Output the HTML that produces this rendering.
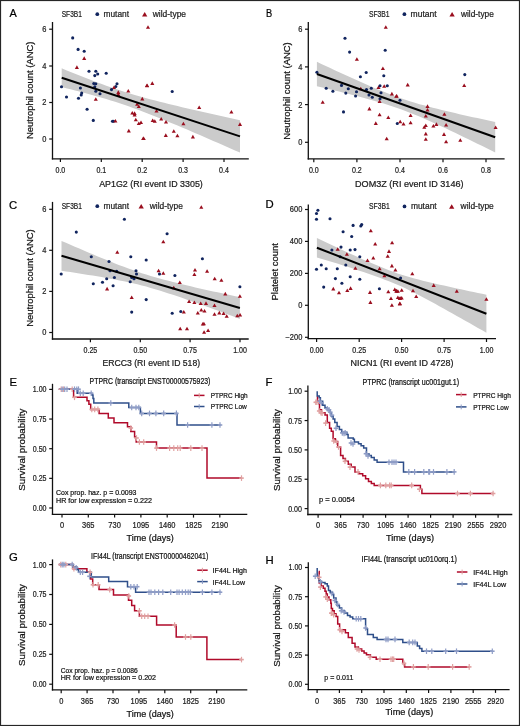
<!DOCTYPE html><html><head><meta charset="utf-8"><style>html,body{margin:0;padding:0;background:#fff}body{width:520px;height:726px;overflow:hidden}svg{display:block;will-change:transform}</style></head><body>
<svg width="520" height="726" viewBox="0 0 520 726" font-family='"Liberation Sans", sans-serif'>
<rect x="0" y="0" width="520" height="726" fill="#fff"/>
<text x="9.40" y="17.10" font-size="11.3" fill="#000" stroke="#000" stroke-width="0.22" textLength="7.30" lengthAdjust="spacingAndGlyphs">A</text>
<text x="265.90" y="16.60" font-size="11.3" fill="#000" stroke="#000" stroke-width="0.22" textLength="6.20" lengthAdjust="spacingAndGlyphs">B</text>
<text x="9.00" y="209.40" font-size="11.3" fill="#000" stroke="#000" stroke-width="0.22">C</text>
<text x="265.50" y="207.50" font-size="11.3" fill="#000" stroke="#000" stroke-width="0.22">D</text>
<text x="9.40" y="386.20" font-size="11.3" fill="#000" stroke="#000" stroke-width="0.22">E</text>
<text x="265.40" y="386.20" font-size="11.3" fill="#000" stroke="#000" stroke-width="0.22">F</text>
<text x="9.00" y="561.20" font-size="11.3" fill="#000" stroke="#000" stroke-width="0.22">G</text>
<text x="265.40" y="564.10" font-size="11.3" fill="#000" stroke="#000" stroke-width="0.22">H</text>
<path d="M61.70 68.30L66.16 70.15L70.62 71.98L75.07 73.79L79.53 75.58L83.99 77.35L88.45 79.09L92.90 80.80L97.36 82.48L101.82 84.12L106.28 85.72L110.73 87.28L115.19 88.80L119.65 90.27L124.11 91.70L128.56 93.09L133.02 94.43L137.48 95.73L141.94 96.99L146.39 98.22L150.85 99.42L155.31 100.59L159.77 101.74L164.22 102.86L168.68 103.96L173.14 105.05L177.60 106.12L182.05 107.18L186.51 108.22L190.97 109.26L195.43 110.28L199.88 111.30L204.34 112.31L208.80 113.31L213.25 114.31L217.71 115.30L222.17 116.29L226.63 117.27L231.09 118.25L235.54 119.23L240.00 120.20L240.00 152.60L235.54 150.64L231.09 148.68L226.63 146.72L222.17 144.77L217.71 142.82L213.25 140.88L208.80 138.94L204.34 137.01L199.88 135.09L195.43 133.17L190.97 131.26L186.51 129.36L182.05 127.47L177.60 125.59L173.14 123.73L168.68 121.88L164.22 120.05L159.77 118.23L155.31 116.44L150.85 114.68L146.39 112.94L141.94 111.24L137.48 109.57L133.02 107.93L128.56 106.34L124.11 104.79L119.65 103.28L115.19 101.82L110.73 100.40L106.28 99.03L101.82 97.69L97.36 96.40L92.90 95.14L88.45 93.92L83.99 92.72L79.53 91.56L75.07 90.41L70.62 89.29L66.16 88.19L61.70 87.10Z" fill="#cbcbcb"/>
<circle cx="72.70" cy="37.90" r="1.55" fill="#10245e"/>
<circle cx="78.10" cy="49.40" r="1.55" fill="#10245e"/>
<circle cx="84.20" cy="51.20" r="1.55" fill="#10245e"/>
<path d="M84.20 56.37L86.25 59.92L82.15 59.92Z" fill="#9a0e1e"/>
<path d="M76.90 65.37L78.95 68.92L74.85 68.92Z" fill="#9a0e1e"/>
<path d="M148.00 25.17L150.05 28.72L145.95 28.72Z" fill="#9a0e1e"/>
<circle cx="89.00" cy="71.30" r="1.55" fill="#10245e"/>
<circle cx="95.80" cy="71.20" r="1.55" fill="#10245e"/>
<circle cx="97.70" cy="74.00" r="1.55" fill="#10245e"/>
<circle cx="94.80" cy="75.60" r="1.55" fill="#10245e"/>
<circle cx="106.20" cy="73.30" r="1.55" fill="#10245e"/>
<circle cx="61.50" cy="86.70" r="1.55" fill="#10245e"/>
<circle cx="93.80" cy="83.50" r="1.55" fill="#10245e"/>
<circle cx="95.80" cy="83.80" r="1.55" fill="#10245e"/>
<circle cx="94.80" cy="86.70" r="1.55" fill="#10245e"/>
<circle cx="80.40" cy="88.00" r="1.55" fill="#10245e"/>
<circle cx="117.00" cy="83.80" r="1.55" fill="#10245e"/>
<circle cx="115.80" cy="86.50" r="1.55" fill="#10245e"/>
<path d="M114.00 85.57L116.05 89.12L111.95 89.12Z" fill="#9a0e1e"/>
<circle cx="111.50" cy="89.60" r="1.55" fill="#10245e"/>
<circle cx="95.80" cy="91.20" r="1.55" fill="#10245e"/>
<path d="M118.30 90.37L120.35 93.92L116.25 93.92Z" fill="#9a0e1e"/>
<path d="M118.30 92.47L120.35 96.02L116.25 96.02Z" fill="#9a0e1e"/>
<path d="M128.30 89.07L130.35 92.62L126.25 92.62Z" fill="#9a0e1e"/>
<path d="M147.10 83.67L149.15 87.22L145.05 87.22Z" fill="#9a0e1e"/>
<circle cx="81.70" cy="93.00" r="1.55" fill="#10245e"/>
<circle cx="81.20" cy="95.00" r="1.55" fill="#10245e"/>
<circle cx="100.00" cy="93.70" r="1.55" fill="#10245e"/>
<circle cx="66.50" cy="97.00" r="1.55" fill="#10245e"/>
<circle cx="78.50" cy="98.30" r="1.55" fill="#10245e"/>
<path d="M95.80 97.17L97.85 100.72L93.75 100.72Z" fill="#9a0e1e"/>
<path d="M142.30 96.87L144.35 100.42L140.25 100.42Z" fill="#9a0e1e"/>
<circle cx="87.10" cy="109.20" r="1.55" fill="#10245e"/>
<circle cx="93.30" cy="120.40" r="1.55" fill="#10245e"/>
<circle cx="112.50" cy="121.20" r="1.55" fill="#10245e"/>
<circle cx="113.50" cy="121.20" r="1.55" fill="#10245e"/>
<path d="M115.40 119.07L117.45 122.62L113.35 122.62Z" fill="#9a0e1e"/>
<path d="M137.10 102.27L139.15 105.82L135.05 105.82Z" fill="#9a0e1e"/>
<path d="M138.80 104.57L140.85 108.12L136.75 108.12Z" fill="#9a0e1e"/>
<path d="M132.30 110.97L134.35 114.52L130.25 114.52Z" fill="#9a0e1e"/>
<path d="M134.60 111.37L136.65 114.92L132.55 114.92Z" fill="#9a0e1e"/>
<path d="M134.60 112.87L136.65 116.42L132.55 116.42Z" fill="#9a0e1e"/>
<path d="M135.80 117.67L137.85 121.22L133.75 121.22Z" fill="#9a0e1e"/>
<path d="M138.80 121.57L140.85 125.12L136.75 125.12Z" fill="#9a0e1e"/>
<path d="M141.00 120.57L143.05 124.12L138.95 124.12Z" fill="#9a0e1e"/>
<path d="M128.80 128.87L130.85 132.42L126.75 132.42Z" fill="#9a0e1e"/>
<path d="M143.70 136.57L145.75 140.12L141.65 140.12Z" fill="#9a0e1e"/>
<path d="M147.00 83.47L149.05 87.02L144.95 87.02Z" fill="#9a0e1e"/>
<path d="M152.30 81.37L154.35 84.92L150.25 84.92Z" fill="#9a0e1e"/>
<circle cx="172.20" cy="91.50" r="1.55" fill="#10245e"/>
<path d="M156.50 109.07L158.55 112.62L154.45 112.62Z" fill="#9a0e1e"/>
<path d="M152.70 118.57L154.75 122.12L150.65 122.12Z" fill="#9a0e1e"/>
<path d="M154.80 119.17L156.85 122.72L152.75 122.72Z" fill="#9a0e1e"/>
<path d="M161.20 117.07L163.25 120.62L159.15 120.62Z" fill="#9a0e1e"/>
<path d="M166.00 120.07L168.05 123.62L163.95 123.62Z" fill="#9a0e1e"/>
<path d="M183.40 121.67L185.45 125.22L181.35 125.22Z" fill="#9a0e1e"/>
<path d="M199.20 105.47L201.25 109.02L197.15 109.02Z" fill="#9a0e1e"/>
<path d="M231.40 110.07L233.45 113.62L229.35 113.62Z" fill="#9a0e1e"/>
<path d="M240.00 122.37L242.05 125.92L237.95 125.92Z" fill="#9a0e1e"/>
<path d="M173.80 129.17L175.85 132.72L171.75 132.72Z" fill="#9a0e1e"/>
<path d="M165.80 133.37L167.85 136.92L163.75 136.92Z" fill="#9a0e1e"/>
<path d="M177.40 133.77L179.45 137.32L175.35 137.32Z" fill="#9a0e1e"/>
<path d="M192.90 134.87L194.95 138.42L190.85 138.42Z" fill="#9a0e1e"/>
<path d="M143.20 136.57L145.25 140.12L141.15 140.12Z" fill="#9a0e1e"/>
<line x1="61.70" y1="77.70" x2="240.00" y2="136.40" stroke="#000" stroke-width="2.0" stroke-linecap="butt"/>
<line x1="52.50" y1="22.00" x2="52.50" y2="159.45" stroke="#111" stroke-width="1.3" stroke-linecap="butt"/>
<line x1="51.85" y1="158.80" x2="248.80" y2="158.80" stroke="#111" stroke-width="1.3" stroke-linecap="butt"/>
<line x1="49.20" y1="139.00" x2="52.50" y2="139.00" stroke="#111" stroke-width="1.2" stroke-linecap="butt"/>
<text x="46.50" y="141.95" font-size="8.3" fill="#222" stroke="#222" stroke-width="0.22" text-anchor="end" textLength="4.15" lengthAdjust="spacingAndGlyphs">0</text>
<line x1="49.20" y1="102.50" x2="52.50" y2="102.50" stroke="#111" stroke-width="1.2" stroke-linecap="butt"/>
<text x="46.50" y="105.45" font-size="8.3" fill="#222" stroke="#222" stroke-width="0.22" text-anchor="end" textLength="4.15" lengthAdjust="spacingAndGlyphs">2</text>
<line x1="49.20" y1="66.00" x2="52.50" y2="66.00" stroke="#111" stroke-width="1.2" stroke-linecap="butt"/>
<text x="46.50" y="68.95" font-size="8.3" fill="#222" stroke="#222" stroke-width="0.22" text-anchor="end" textLength="4.15" lengthAdjust="spacingAndGlyphs">4</text>
<line x1="49.20" y1="29.20" x2="52.50" y2="29.20" stroke="#111" stroke-width="1.2" stroke-linecap="butt"/>
<text x="46.50" y="32.15" font-size="8.3" fill="#222" stroke="#222" stroke-width="0.22" text-anchor="end" textLength="4.15" lengthAdjust="spacingAndGlyphs">6</text>
<line x1="60.40" y1="158.80" x2="60.40" y2="162.10" stroke="#111" stroke-width="1.2" stroke-linecap="butt"/>
<text x="60.40" y="172.70" font-size="8.3" fill="#222" stroke="#222" stroke-width="0.22" text-anchor="middle" textLength="9.81" lengthAdjust="spacingAndGlyphs">0.0</text>
<line x1="101.30" y1="158.80" x2="101.30" y2="162.10" stroke="#111" stroke-width="1.2" stroke-linecap="butt"/>
<text x="101.30" y="172.70" font-size="8.3" fill="#222" stroke="#222" stroke-width="0.22" text-anchor="middle" textLength="9.81" lengthAdjust="spacingAndGlyphs">0.1</text>
<line x1="142.20" y1="158.80" x2="142.20" y2="162.10" stroke="#111" stroke-width="1.2" stroke-linecap="butt"/>
<text x="142.20" y="172.70" font-size="8.3" fill="#222" stroke="#222" stroke-width="0.22" text-anchor="middle" textLength="9.81" lengthAdjust="spacingAndGlyphs">0.2</text>
<line x1="183.10" y1="158.80" x2="183.10" y2="162.10" stroke="#111" stroke-width="1.2" stroke-linecap="butt"/>
<text x="183.10" y="172.70" font-size="8.3" fill="#222" stroke="#222" stroke-width="0.22" text-anchor="middle" textLength="9.81" lengthAdjust="spacingAndGlyphs">0.3</text>
<line x1="224.00" y1="158.80" x2="224.00" y2="162.10" stroke="#111" stroke-width="1.2" stroke-linecap="butt"/>
<text x="224.00" y="172.70" font-size="8.3" fill="#222" stroke="#222" stroke-width="0.22" text-anchor="middle" textLength="9.81" lengthAdjust="spacingAndGlyphs">0.4</text>
<text x="61.70" y="17.10" font-size="8.8" fill="#222" stroke="#222" stroke-width="0.22" textLength="20.20" lengthAdjust="spacingAndGlyphs">SF3B1</text>
<circle cx="97.30" cy="14.20" r="1.85" fill="#10245e"/>
<text x="103.50" y="17.10" font-size="8.6" fill="#222" stroke="#222" stroke-width="0.22" textLength="25.50" lengthAdjust="spacingAndGlyphs">mutant</text>
<path d="M144.70 11.95L147.35 16.54L142.05 16.54Z" fill="#9a0e1e"/>
<text x="152.70" y="17.10" font-size="8.6" fill="#222" stroke="#222" stroke-width="0.22" textLength="33.40" lengthAdjust="spacingAndGlyphs">wild-type</text>
<text x="151.00" y="186.60" font-size="9.2" fill="#1a1a1a" stroke="#1a1a1a" stroke-width="0.22" text-anchor="middle" textLength="103.60" lengthAdjust="spacingAndGlyphs">AP1G2 (RI event ID 3305)</text>
<text x="33.20" y="90.30" font-size="9.2" fill="#111" stroke="#111" stroke-width="0.22" text-anchor="middle" textLength="97.40" lengthAdjust="spacingAndGlyphs" transform="rotate(-90 33.20 90.30)">Neutrophil count (ANC)</text>
<path d="M316.90 61.80L321.36 63.90L325.81 65.99L330.27 68.07L334.73 70.15L339.19 72.22L343.64 74.27L348.10 76.31L352.56 78.34L357.02 80.35L361.47 82.33L365.93 84.30L370.39 86.23L374.85 88.13L379.31 89.99L383.76 91.80L388.22 93.57L392.68 95.28L397.13 96.93L401.59 98.51L406.05 100.03L410.51 101.46L414.96 102.83L419.42 104.13L423.88 105.37L428.34 106.57L432.79 107.73L437.25 108.85L441.71 109.95L446.17 111.02L450.62 112.07L455.08 113.11L459.54 114.13L464.00 115.14L468.45 116.14L472.91 117.13L477.37 118.12L481.83 119.10L486.28 120.07L490.74 121.04L495.20 122.00L495.20 152.40L490.74 150.20L486.28 148.01L481.83 145.82L477.37 143.64L472.91 141.47L468.45 139.30L464.00 137.14L459.54 134.99L455.08 132.85L450.62 130.73L446.17 128.62L441.71 126.53L437.25 124.47L432.79 122.43L428.34 120.43L423.88 118.47L419.42 116.55L414.96 114.69L410.51 112.90L406.05 111.17L401.59 109.53L397.13 107.95L392.68 106.44L388.22 104.99L383.76 103.60L379.31 102.25L374.85 100.95L370.39 99.69L365.93 98.46L361.47 97.27L357.02 96.09L352.56 94.94L348.10 93.81L343.64 92.69L339.19 91.58L334.73 90.49L330.27 89.41L325.81 88.33L321.36 87.26L316.90 86.20Z" fill="#cbcbcb"/>
<circle cx="345.00" cy="38.30" r="1.55" fill="#10245e"/>
<path d="M385.80 25.17L387.85 28.72L383.75 28.72Z" fill="#9a0e1e"/>
<circle cx="349.60" cy="52.10" r="1.55" fill="#10245e"/>
<circle cx="385.20" cy="50.20" r="1.55" fill="#10245e"/>
<path d="M356.90 57.27L358.95 60.82L354.85 60.82Z" fill="#9a0e1e"/>
<path d="M382.90 66.57L384.95 70.12L380.85 70.12Z" fill="#9a0e1e"/>
<circle cx="316.90" cy="72.30" r="1.55" fill="#10245e"/>
<circle cx="366.20" cy="72.50" r="1.55" fill="#10245e"/>
<circle cx="360.40" cy="76.70" r="1.55" fill="#10245e"/>
<circle cx="383.80" cy="75.80" r="1.55" fill="#10245e"/>
<circle cx="341.50" cy="85.40" r="1.55" fill="#10245e"/>
<circle cx="326.20" cy="88.30" r="1.55" fill="#10245e"/>
<circle cx="332.90" cy="91.20" r="1.55" fill="#10245e"/>
<circle cx="348.30" cy="88.70" r="1.55" fill="#10245e"/>
<circle cx="345.80" cy="93.10" r="1.55" fill="#10245e"/>
<circle cx="356.50" cy="91.70" r="1.55" fill="#10245e"/>
<path d="M360.80 86.67L362.85 90.22L358.75 90.22Z" fill="#9a0e1e"/>
<circle cx="366.50" cy="89.60" r="1.55" fill="#10245e"/>
<circle cx="371.30" cy="88.30" r="1.55" fill="#10245e"/>
<path d="M378.50 85.57L380.55 89.12L376.45 89.12Z" fill="#9a0e1e"/>
<circle cx="380.00" cy="85.80" r="1.55" fill="#10245e"/>
<path d="M384.20 84.17L386.25 87.72L382.15 87.72Z" fill="#9a0e1e"/>
<circle cx="387.30" cy="85.80" r="1.55" fill="#10245e"/>
<circle cx="355.60" cy="96.00" r="1.55" fill="#10245e"/>
<circle cx="369.00" cy="95.00" r="1.55" fill="#10245e"/>
<circle cx="372.30" cy="97.30" r="1.55" fill="#10245e"/>
<circle cx="381.00" cy="92.70" r="1.55" fill="#10245e"/>
<circle cx="380.00" cy="98.80" r="1.55" fill="#10245e"/>
<path d="M391.90 91.87L393.95 95.42L389.85 95.42Z" fill="#9a0e1e"/>
<path d="M396.30 94.17L398.35 97.72L394.25 97.72Z" fill="#9a0e1e"/>
<path d="M379.60 99.57L381.65 103.12L377.55 103.12Z" fill="#9a0e1e"/>
<path d="M322.70 100.17L324.75 103.72L320.65 103.72Z" fill="#9a0e1e"/>
<circle cx="343.50" cy="111.90" r="1.55" fill="#10245e"/>
<path d="M369.40 106.87L371.45 110.42L367.35 110.42Z" fill="#9a0e1e"/>
<path d="M379.60 112.67L381.65 116.22L377.55 116.22Z" fill="#9a0e1e"/>
<path d="M388.30 115.57L390.35 119.12L386.25 119.12Z" fill="#9a0e1e"/>
<path d="M375.80 121.37L377.85 124.92L373.75 124.92Z" fill="#9a0e1e"/>
<circle cx="397.30" cy="123.50" r="1.55" fill="#10245e"/>
<path d="M400.20 119.77L402.25 123.32L398.15 123.32Z" fill="#9a0e1e"/>
<path d="M403.50 122.07L405.55 125.62L401.45 125.62Z" fill="#9a0e1e"/>
<path d="M386.70 136.67L388.75 140.22L384.65 140.22Z" fill="#9a0e1e"/>
<circle cx="464.80" cy="74.60" r="1.55" fill="#10245e"/>
<path d="M464.20 83.47L466.25 87.02L462.15 87.02Z" fill="#9a0e1e"/>
<path d="M407.70 82.87L409.75 86.42L405.65 86.42Z" fill="#9a0e1e"/>
<circle cx="400.00" cy="100.20" r="1.55" fill="#10245e"/>
<path d="M427.50 104.37L429.55 107.92L425.45 107.92Z" fill="#9a0e1e"/>
<path d="M427.50 107.97L429.55 111.52L425.45 111.52Z" fill="#9a0e1e"/>
<path d="M425.80 113.97L427.85 117.52L423.75 117.52Z" fill="#9a0e1e"/>
<path d="M410.60 113.47L412.65 117.02L408.55 117.02Z" fill="#9a0e1e"/>
<path d="M410.60 120.67L412.65 124.22L408.55 124.22Z" fill="#9a0e1e"/>
<path d="M444.40 112.27L446.45 115.82L442.35 115.82Z" fill="#9a0e1e"/>
<path d="M436.40 122.37L438.45 125.92L434.35 125.92Z" fill="#9a0e1e"/>
<path d="M433.40 124.07L435.45 127.62L431.35 127.62Z" fill="#9a0e1e"/>
<path d="M425.80 123.47L427.85 127.02L423.75 127.02Z" fill="#9a0e1e"/>
<path d="M424.30 125.17L426.35 128.72L422.25 128.72Z" fill="#9a0e1e"/>
<path d="M446.10 123.07L448.15 126.62L444.05 126.62Z" fill="#9a0e1e"/>
<path d="M425.80 131.87L427.85 135.42L423.75 135.42Z" fill="#9a0e1e"/>
<path d="M444.00 132.37L446.05 135.92L441.95 135.92Z" fill="#9a0e1e"/>
<path d="M425.80 137.17L427.85 140.72L423.75 140.72Z" fill="#9a0e1e"/>
<path d="M446.10 139.77L448.15 143.32L444.05 143.32Z" fill="#9a0e1e"/>
<path d="M460.30 138.27L462.35 141.82L458.25 141.82Z" fill="#9a0e1e"/>
<path d="M495.60 125.57L497.65 129.12L493.55 129.12Z" fill="#9a0e1e"/>
<path d="M396.70 94.07L398.75 97.62L394.65 97.62Z" fill="#9a0e1e"/>
<line x1="316.90" y1="74.00" x2="495.20" y2="137.20" stroke="#000" stroke-width="2.0" stroke-linecap="butt"/>
<line x1="308.30" y1="22.10" x2="308.30" y2="159.55" stroke="#111" stroke-width="1.3" stroke-linecap="butt"/>
<line x1="307.65" y1="158.90" x2="504.60" y2="158.90" stroke="#111" stroke-width="1.3" stroke-linecap="butt"/>
<line x1="305.00" y1="142.30" x2="308.30" y2="142.30" stroke="#111" stroke-width="1.2" stroke-linecap="butt"/>
<text x="302.30" y="145.25" font-size="8.3" fill="#222" stroke="#222" stroke-width="0.22" text-anchor="end" textLength="4.15" lengthAdjust="spacingAndGlyphs">0</text>
<line x1="305.00" y1="104.60" x2="308.30" y2="104.60" stroke="#111" stroke-width="1.2" stroke-linecap="butt"/>
<text x="302.30" y="107.55" font-size="8.3" fill="#222" stroke="#222" stroke-width="0.22" text-anchor="end" textLength="4.15" lengthAdjust="spacingAndGlyphs">2</text>
<line x1="305.00" y1="66.90" x2="308.30" y2="66.90" stroke="#111" stroke-width="1.2" stroke-linecap="butt"/>
<text x="302.30" y="69.85" font-size="8.3" fill="#222" stroke="#222" stroke-width="0.22" text-anchor="end" textLength="4.15" lengthAdjust="spacingAndGlyphs">4</text>
<line x1="305.00" y1="29.20" x2="308.30" y2="29.20" stroke="#111" stroke-width="1.2" stroke-linecap="butt"/>
<text x="302.30" y="32.15" font-size="8.3" fill="#222" stroke="#222" stroke-width="0.22" text-anchor="end" textLength="4.15" lengthAdjust="spacingAndGlyphs">6</text>
<line x1="313.80" y1="158.90" x2="313.80" y2="162.20" stroke="#111" stroke-width="1.2" stroke-linecap="butt"/>
<text x="313.80" y="172.80" font-size="8.3" fill="#222" stroke="#222" stroke-width="0.22" text-anchor="middle" textLength="9.81" lengthAdjust="spacingAndGlyphs">0.0</text>
<line x1="356.90" y1="158.90" x2="356.90" y2="162.20" stroke="#111" stroke-width="1.2" stroke-linecap="butt"/>
<text x="356.90" y="172.80" font-size="8.3" fill="#222" stroke="#222" stroke-width="0.22" text-anchor="middle" textLength="9.81" lengthAdjust="spacingAndGlyphs">0.2</text>
<line x1="400.00" y1="158.90" x2="400.00" y2="162.20" stroke="#111" stroke-width="1.2" stroke-linecap="butt"/>
<text x="400.00" y="172.80" font-size="8.3" fill="#222" stroke="#222" stroke-width="0.22" text-anchor="middle" textLength="9.81" lengthAdjust="spacingAndGlyphs">0.4</text>
<line x1="443.00" y1="158.90" x2="443.00" y2="162.20" stroke="#111" stroke-width="1.2" stroke-linecap="butt"/>
<text x="443.00" y="172.80" font-size="8.3" fill="#222" stroke="#222" stroke-width="0.22" text-anchor="middle" textLength="9.81" lengthAdjust="spacingAndGlyphs">0.6</text>
<line x1="486.00" y1="158.90" x2="486.00" y2="162.20" stroke="#111" stroke-width="1.2" stroke-linecap="butt"/>
<text x="486.00" y="172.80" font-size="8.3" fill="#222" stroke="#222" stroke-width="0.22" text-anchor="middle" textLength="9.81" lengthAdjust="spacingAndGlyphs">0.8</text>
<text x="368.90" y="17.10" font-size="8.8" fill="#222" stroke="#222" stroke-width="0.22" textLength="20.70" lengthAdjust="spacingAndGlyphs">SF3B1</text>
<circle cx="404.40" cy="14.20" r="1.85" fill="#10245e"/>
<text x="410.60" y="17.10" font-size="8.6" fill="#222" stroke="#222" stroke-width="0.22" textLength="26.10" lengthAdjust="spacingAndGlyphs">mutant</text>
<path d="M452.10 11.95L454.75 16.54L449.45 16.54Z" fill="#9a0e1e"/>
<text x="461.00" y="17.10" font-size="8.6" fill="#222" stroke="#222" stroke-width="0.22" textLength="32.80" lengthAdjust="spacingAndGlyphs">wild-type</text>
<text x="409.30" y="186.60" font-size="9.2" fill="#1a1a1a" stroke="#1a1a1a" stroke-width="0.22" text-anchor="middle" textLength="108.50" lengthAdjust="spacingAndGlyphs">DOM3Z (RI event ID 3146)</text>
<text x="289.90" y="91.00" font-size="9.2" fill="#111" stroke="#111" stroke-width="0.22" text-anchor="middle" textLength="97.40" lengthAdjust="spacingAndGlyphs" transform="rotate(-90 289.90 91.00)">Neutrophil count (ANC)</text>
<path d="M61.50 240.90L65.96 242.83L70.42 244.76L74.88 246.68L79.34 248.59L83.80 250.49L88.26 252.38L92.72 254.26L97.18 256.13L101.64 257.98L106.10 259.81L110.56 261.61L115.02 263.39L119.48 265.14L123.94 266.85L128.40 268.51L132.86 270.12L137.32 271.67L141.78 273.16L146.24 274.57L150.70 275.90L155.16 277.18L159.62 278.43L164.08 279.65L168.54 280.83L173.00 281.99L177.46 283.12L181.92 284.22L186.38 285.30L190.84 286.36L195.30 287.40L199.76 288.42L204.22 289.43L208.68 290.42L213.14 291.40L217.60 292.37L222.06 293.34L226.52 294.29L230.98 295.23L235.44 296.17L239.90 297.10L239.90 318.90L235.44 317.22L230.98 315.55L226.52 313.88L222.06 312.22L217.60 310.58L213.14 308.94L208.68 307.31L204.22 305.69L199.76 304.09L195.30 302.50L190.84 300.93L186.38 299.38L181.92 297.85L177.46 296.34L173.00 294.86L168.54 293.41L164.08 291.98L159.62 290.59L155.16 289.23L150.70 287.90L146.24 286.62L141.78 285.42L137.32 284.30L132.86 283.24L128.40 282.24L123.94 281.29L119.48 280.39L115.02 279.53L110.56 278.70L106.10 277.89L101.64 277.11L97.18 276.35L92.72 275.61L88.26 274.88L83.80 274.16L79.34 273.45L74.88 272.75L70.42 272.06L65.96 271.38L61.50 270.70Z" fill="#cbcbcb"/>
<circle cx="76.30" cy="232.10" r="1.55" fill="#10245e"/>
<circle cx="124.40" cy="219.20" r="1.55" fill="#10245e"/>
<path d="M117.30 250.17L119.35 253.72L115.25 253.72Z" fill="#9a0e1e"/>
<circle cx="91.30" cy="256.70" r="1.55" fill="#10245e"/>
<circle cx="130.80" cy="256.70" r="1.55" fill="#10245e"/>
<circle cx="146.20" cy="260.00" r="1.55" fill="#10245e"/>
<circle cx="109.00" cy="261.50" r="1.55" fill="#10245e"/>
<circle cx="61.20" cy="274.00" r="1.55" fill="#10245e"/>
<circle cx="110.00" cy="270.80" r="1.55" fill="#10245e"/>
<circle cx="116.70" cy="271.20" r="1.55" fill="#10245e"/>
<circle cx="136.00" cy="270.80" r="1.55" fill="#10245e"/>
<circle cx="136.50" cy="274.00" r="1.55" fill="#10245e"/>
<circle cx="114.40" cy="277.50" r="1.55" fill="#10245e"/>
<circle cx="106.70" cy="278.80" r="1.55" fill="#10245e"/>
<circle cx="131.70" cy="277.50" r="1.55" fill="#10245e"/>
<circle cx="134.00" cy="278.80" r="1.55" fill="#10245e"/>
<circle cx="130.20" cy="281.70" r="1.55" fill="#10245e"/>
<circle cx="93.30" cy="283.70" r="1.55" fill="#10245e"/>
<circle cx="102.50" cy="282.30" r="1.55" fill="#10245e"/>
<circle cx="113.10" cy="285.80" r="1.55" fill="#10245e"/>
<path d="M107.10 286.87L109.15 290.42L105.05 290.42Z" fill="#9a0e1e"/>
<path d="M131.70 295.57L133.75 299.12L129.65 299.12Z" fill="#9a0e1e"/>
<circle cx="146.20" cy="299.60" r="1.55" fill="#10245e"/>
<circle cx="131.70" cy="312.10" r="1.55" fill="#10245e"/>
<path d="M201.30 205.27L203.35 208.82L199.25 208.82Z" fill="#9a0e1e"/>
<circle cx="167.10" cy="233.80" r="1.55" fill="#10245e"/>
<path d="M163.30 239.77L165.35 243.32L161.25 243.32Z" fill="#9a0e1e"/>
<circle cx="202.40" cy="258.80" r="1.55" fill="#10245e"/>
<path d="M158.60 268.77L160.65 272.32L156.55 272.32Z" fill="#9a0e1e"/>
<circle cx="159.50" cy="274.00" r="1.55" fill="#10245e"/>
<path d="M163.30 271.27L165.35 274.82L161.25 274.82Z" fill="#9a0e1e"/>
<circle cx="174.90" cy="275.50" r="1.55" fill="#10245e"/>
<path d="M195.00 268.07L197.05 271.62L192.95 271.62Z" fill="#9a0e1e"/>
<path d="M194.40 272.57L196.45 276.12L192.35 276.12Z" fill="#9a0e1e"/>
<path d="M207.10 269.17L209.15 272.72L205.05 272.72Z" fill="#9a0e1e"/>
<path d="M214.70 276.77L216.75 280.32L212.65 280.32Z" fill="#9a0e1e"/>
<path d="M221.40 278.27L223.45 281.82L219.35 281.82Z" fill="#9a0e1e"/>
<path d="M179.80 280.47L181.85 284.02L177.75 284.02Z" fill="#9a0e1e"/>
<path d="M173.80 285.67L175.85 289.22L171.75 289.22Z" fill="#9a0e1e"/>
<circle cx="239.90" cy="286.80" r="1.55" fill="#10245e"/>
<path d="M225.30 291.87L227.35 295.42L223.25 295.42Z" fill="#9a0e1e"/>
<path d="M239.90 294.17L241.95 297.72L237.85 297.72Z" fill="#9a0e1e"/>
<path d="M189.10 299.47L191.15 303.02L187.05 303.02Z" fill="#9a0e1e"/>
<path d="M194.40 300.57L196.45 304.12L192.35 304.12Z" fill="#9a0e1e"/>
<path d="M200.70 301.57L202.75 305.12L198.65 305.12Z" fill="#9a0e1e"/>
<path d="M206.00 301.37L208.05 304.92L203.95 304.92Z" fill="#9a0e1e"/>
<path d="M214.50 303.47L216.55 307.02L212.45 307.02Z" fill="#9a0e1e"/>
<circle cx="172.20" cy="313.20" r="1.55" fill="#10245e"/>
<circle cx="180.80" cy="311.50" r="1.55" fill="#10245e"/>
<path d="M183.80 310.07L185.85 313.62L181.75 313.62Z" fill="#9a0e1e"/>
<path d="M197.80 311.07L199.85 314.62L195.75 314.62Z" fill="#9a0e1e"/>
<path d="M201.30 307.97L203.35 311.52L199.25 311.52Z" fill="#9a0e1e"/>
<path d="M204.50 308.97L206.55 312.52L202.45 312.52Z" fill="#9a0e1e"/>
<path d="M214.50 312.17L216.55 315.72L212.45 315.72Z" fill="#9a0e1e"/>
<path d="M219.30 310.87L221.35 314.42L217.25 314.42Z" fill="#9a0e1e"/>
<path d="M223.60 311.57L225.65 315.12L221.55 315.12Z" fill="#9a0e1e"/>
<path d="M226.70 314.27L228.75 317.82L224.65 317.82Z" fill="#9a0e1e"/>
<path d="M237.30 313.67L239.35 317.22L235.25 317.22Z" fill="#9a0e1e"/>
<path d="M240.10 312.97L242.15 316.52L238.05 316.52Z" fill="#9a0e1e"/>
<path d="M180.20 326.77L182.25 330.32L178.15 330.32Z" fill="#9a0e1e"/>
<path d="M187.00 326.77L189.05 330.32L184.95 330.32Z" fill="#9a0e1e"/>
<path d="M202.80 322.07L204.85 325.62L200.75 325.62Z" fill="#9a0e1e"/>
<path d="M203.90 321.67L205.95 325.22L201.85 325.22Z" fill="#9a0e1e"/>
<path d="M204.10 330.17L206.15 333.72L202.05 333.72Z" fill="#9a0e1e"/>
<path d="M208.10 328.47L210.15 332.02L206.05 332.02Z" fill="#9a0e1e"/>
<line x1="61.50" y1="255.80" x2="239.90" y2="308.00" stroke="#000" stroke-width="2.0" stroke-linecap="butt"/>
<line x1="52.50" y1="201.90" x2="52.50" y2="339.65" stroke="#111" stroke-width="1.3" stroke-linecap="butt"/>
<line x1="51.85" y1="339.00" x2="248.70" y2="339.00" stroke="#111" stroke-width="1.3" stroke-linecap="butt"/>
<line x1="49.20" y1="332.50" x2="52.50" y2="332.50" stroke="#111" stroke-width="1.2" stroke-linecap="butt"/>
<text x="46.50" y="335.45" font-size="8.3" fill="#222" stroke="#222" stroke-width="0.22" text-anchor="end" textLength="4.15" lengthAdjust="spacingAndGlyphs">0</text>
<line x1="49.20" y1="291.40" x2="52.50" y2="291.40" stroke="#111" stroke-width="1.2" stroke-linecap="butt"/>
<text x="46.50" y="294.35" font-size="8.3" fill="#222" stroke="#222" stroke-width="0.22" text-anchor="end" textLength="4.15" lengthAdjust="spacingAndGlyphs">2</text>
<line x1="49.20" y1="250.30" x2="52.50" y2="250.30" stroke="#111" stroke-width="1.2" stroke-linecap="butt"/>
<text x="46.50" y="253.25" font-size="8.3" fill="#222" stroke="#222" stroke-width="0.22" text-anchor="end" textLength="4.15" lengthAdjust="spacingAndGlyphs">4</text>
<line x1="49.20" y1="209.30" x2="52.50" y2="209.30" stroke="#111" stroke-width="1.2" stroke-linecap="butt"/>
<text x="46.50" y="212.25" font-size="8.3" fill="#222" stroke="#222" stroke-width="0.22" text-anchor="end" textLength="4.15" lengthAdjust="spacingAndGlyphs">6</text>
<line x1="90.40" y1="339.00" x2="90.40" y2="342.30" stroke="#111" stroke-width="1.2" stroke-linecap="butt"/>
<text x="90.40" y="352.90" font-size="8.3" fill="#222" stroke="#222" stroke-width="0.22" text-anchor="middle" textLength="13.73" lengthAdjust="spacingAndGlyphs">0.25</text>
<line x1="140.30" y1="339.00" x2="140.30" y2="342.30" stroke="#111" stroke-width="1.2" stroke-linecap="butt"/>
<text x="140.30" y="352.90" font-size="8.3" fill="#222" stroke="#222" stroke-width="0.22" text-anchor="middle" textLength="13.73" lengthAdjust="spacingAndGlyphs">0.50</text>
<line x1="190.10" y1="339.00" x2="190.10" y2="342.30" stroke="#111" stroke-width="1.2" stroke-linecap="butt"/>
<text x="190.10" y="352.90" font-size="8.3" fill="#222" stroke="#222" stroke-width="0.22" text-anchor="middle" textLength="13.73" lengthAdjust="spacingAndGlyphs">0.75</text>
<line x1="240.00" y1="339.00" x2="240.00" y2="342.30" stroke="#111" stroke-width="1.2" stroke-linecap="butt"/>
<text x="240.00" y="352.90" font-size="8.3" fill="#222" stroke="#222" stroke-width="0.22" text-anchor="middle" textLength="13.73" lengthAdjust="spacingAndGlyphs">1.00</text>
<text x="61.70" y="209.10" font-size="8.8" fill="#222" stroke="#222" stroke-width="0.22" textLength="20.20" lengthAdjust="spacingAndGlyphs">SF3B1</text>
<circle cx="97.30" cy="206.20" r="1.85" fill="#10245e"/>
<text x="103.50" y="209.10" font-size="8.6" fill="#222" stroke="#222" stroke-width="0.22" textLength="25.50" lengthAdjust="spacingAndGlyphs">mutant</text>
<path d="M141.20 203.95L143.85 208.54L138.55 208.54Z" fill="#9a0e1e"/>
<text x="149.80" y="209.10" font-size="8.6" fill="#222" stroke="#222" stroke-width="0.22" textLength="33.10" lengthAdjust="spacingAndGlyphs">wild-type</text>
<text x="151.30" y="365.60" font-size="9.2" fill="#1a1a1a" stroke="#1a1a1a" stroke-width="0.22" text-anchor="middle" textLength="97.70" lengthAdjust="spacingAndGlyphs">ERCC3 (RI event ID 518)</text>
<text x="33.20" y="278.00" font-size="9.2" fill="#111" stroke="#111" stroke-width="0.22" text-anchor="middle" textLength="97.40" lengthAdjust="spacingAndGlyphs" transform="rotate(-90 33.20 278.00)">Neutrophil count (ANC)</text>
<path d="M316.90 238.00L321.14 240.03L325.38 242.05L329.61 244.06L333.85 246.06L338.09 248.05L342.32 250.02L346.56 251.98L350.80 253.93L355.04 255.85L359.27 257.76L363.51 259.63L367.75 261.49L371.99 263.31L376.22 265.10L380.46 266.85L384.70 268.57L388.94 270.25L393.17 271.87L397.41 273.38L401.65 274.78L405.89 276.09L410.12 277.32L414.36 278.48L418.60 279.60L422.84 280.67L427.07 281.70L431.31 282.71L435.55 283.70L439.79 284.67L444.02 285.62L448.26 286.56L452.50 287.49L456.74 288.41L460.97 289.32L465.21 290.23L469.45 291.13L473.69 292.03L477.92 292.92L482.16 293.81L486.40 294.70L486.40 332.70L482.16 330.29L477.92 327.88L473.69 325.47L469.45 323.07L465.21 320.67L460.97 318.28L456.74 315.89L452.50 313.51L448.26 311.14L444.02 308.78L439.79 306.43L435.55 304.10L431.31 301.79L427.07 299.50L422.84 297.23L418.60 295.00L414.36 292.82L410.12 290.68L405.89 288.61L401.65 286.62L397.41 284.72L393.17 282.93L388.94 281.25L384.70 279.63L380.46 278.05L376.22 276.50L371.99 274.99L367.75 273.51L363.51 272.07L359.27 270.64L355.04 269.25L350.80 267.87L346.56 266.52L342.32 265.18L338.09 263.85L333.85 262.54L329.61 261.24L325.38 259.95L321.14 258.67L316.90 257.40Z" fill="#cbcbcb"/>
<circle cx="317.90" cy="210.20" r="1.55" fill="#10245e"/>
<circle cx="316.50" cy="213.50" r="1.55" fill="#10245e"/>
<circle cx="316.50" cy="219.20" r="1.55" fill="#10245e"/>
<circle cx="330.00" cy="218.70" r="1.55" fill="#10245e"/>
<circle cx="353.10" cy="225.40" r="1.55" fill="#10245e"/>
<circle cx="360.80" cy="226.00" r="1.55" fill="#10245e"/>
<circle cx="361.70" cy="224.60" r="1.55" fill="#10245e"/>
<circle cx="343.10" cy="231.70" r="1.55" fill="#10245e"/>
<path d="M370.80 228.67L372.85 232.22L368.75 232.22Z" fill="#9a0e1e"/>
<circle cx="351.70" cy="236.50" r="1.55" fill="#10245e"/>
<path d="M375.20 242.07L377.25 245.62L373.15 245.62Z" fill="#9a0e1e"/>
<path d="M392.10 240.77L394.15 244.32L390.05 244.32Z" fill="#9a0e1e"/>
<path d="M389.00 249.37L391.05 252.92L386.95 252.92Z" fill="#9a0e1e"/>
<path d="M387.70 254.17L389.75 257.72L385.65 257.72Z" fill="#9a0e1e"/>
<circle cx="341.00" cy="247.10" r="1.55" fill="#10245e"/>
<circle cx="331.90" cy="250.00" r="1.55" fill="#10245e"/>
<path d="M337.70 247.27L339.75 250.82L335.65 250.82Z" fill="#9a0e1e"/>
<circle cx="350.20" cy="250.00" r="1.55" fill="#10245e"/>
<circle cx="355.00" cy="249.60" r="1.55" fill="#10245e"/>
<path d="M346.90 252.27L348.95 255.82L344.85 255.82Z" fill="#9a0e1e"/>
<circle cx="359.80" cy="256.70" r="1.55" fill="#10245e"/>
<path d="M373.30 255.97L375.35 259.52L371.25 259.52Z" fill="#9a0e1e"/>
<path d="M367.50 258.47L369.55 262.02L365.45 262.02Z" fill="#9a0e1e"/>
<circle cx="340.20" cy="256.70" r="1.55" fill="#10245e"/>
<circle cx="316.50" cy="269.20" r="1.55" fill="#10245e"/>
<circle cx="321.30" cy="265.00" r="1.55" fill="#10245e"/>
<circle cx="326.20" cy="268.80" r="1.55" fill="#10245e"/>
<circle cx="337.30" cy="268.80" r="1.55" fill="#10245e"/>
<circle cx="345.80" cy="265.00" r="1.55" fill="#10245e"/>
<path d="M355.40 266.17L357.45 269.72L353.35 269.72Z" fill="#9a0e1e"/>
<path d="M379.60 266.67L381.65 270.22L377.55 270.22Z" fill="#9a0e1e"/>
<path d="M391.90 263.87L393.95 267.42L389.85 267.42Z" fill="#9a0e1e"/>
<path d="M395.40 268.07L397.45 271.62L393.35 271.62Z" fill="#9a0e1e"/>
<path d="M384.40 273.67L386.45 277.22L382.35 277.22Z" fill="#9a0e1e"/>
<circle cx="335.40" cy="278.60" r="1.55" fill="#10245e"/>
<circle cx="350.20" cy="276.70" r="1.55" fill="#10245e"/>
<circle cx="359.80" cy="279.20" r="1.55" fill="#10245e"/>
<circle cx="400.60" cy="278.00" r="1.55" fill="#10245e"/>
<circle cx="341.90" cy="283.30" r="1.55" fill="#10245e"/>
<circle cx="323.70" cy="287.10" r="1.55" fill="#10245e"/>
<path d="M333.30 286.87L335.35 290.42L331.25 290.42Z" fill="#9a0e1e"/>
<path d="M339.00 290.77L341.05 294.32L336.95 294.32Z" fill="#9a0e1e"/>
<path d="M347.30 288.47L349.35 292.02L345.25 292.02Z" fill="#9a0e1e"/>
<path d="M350.60 286.37L352.65 289.92L348.55 289.92Z" fill="#9a0e1e"/>
<path d="M370.00 290.37L372.05 293.92L367.95 293.92Z" fill="#9a0e1e"/>
<path d="M370.40 300.37L372.45 303.92L368.35 303.92Z" fill="#9a0e1e"/>
<circle cx="379.40" cy="288.70" r="1.55" fill="#10245e"/>
<path d="M388.30 289.77L390.35 293.32L386.25 293.32Z" fill="#9a0e1e"/>
<path d="M394.80 287.47L396.85 291.02L392.75 291.02Z" fill="#9a0e1e"/>
<path d="M396.30 288.87L398.35 292.42L394.25 292.42Z" fill="#9a0e1e"/>
<path d="M397.90 289.17L399.95 292.72L395.85 292.72Z" fill="#9a0e1e"/>
<path d="M401.70 288.27L403.75 291.82L399.65 291.82Z" fill="#9a0e1e"/>
<path d="M391.00 296.57L393.05 300.12L388.95 300.12Z" fill="#9a0e1e"/>
<path d="M397.90 295.57L399.95 299.12L395.85 299.12Z" fill="#9a0e1e"/>
<path d="M399.80 296.57L401.85 300.12L397.75 300.12Z" fill="#9a0e1e"/>
<path d="M401.70 295.97L403.75 299.52L399.65 299.52Z" fill="#9a0e1e"/>
<path d="M391.90 303.27L393.95 306.82L389.85 306.82Z" fill="#9a0e1e"/>
<path d="M399.80 301.87L401.85 305.42L397.75 305.42Z" fill="#9a0e1e"/>
<path d="M412.30 271.67L414.35 275.22L410.25 275.22Z" fill="#9a0e1e"/>
<path d="M433.70 283.37L435.75 286.92L431.65 286.92Z" fill="#9a0e1e"/>
<path d="M456.80 289.27L458.85 292.82L454.75 292.82Z" fill="#9a0e1e"/>
<path d="M486.40 297.17L488.45 300.72L484.35 300.72Z" fill="#9a0e1e"/>
<path d="M413.00 288.67L415.05 292.22L410.95 292.22Z" fill="#9a0e1e"/>
<path d="M416.20 294.57L418.25 298.12L414.15 298.12Z" fill="#9a0e1e"/>
<path d="M396.70 289.27L398.75 292.82L394.65 292.82Z" fill="#9a0e1e"/>
<path d="M400.30 296.27L402.35 299.82L398.25 299.82Z" fill="#9a0e1e"/>
<path d="M399.90 301.57L401.95 305.12L397.85 305.12Z" fill="#9a0e1e"/>
<line x1="316.90" y1="247.70" x2="486.40" y2="313.70" stroke="#000" stroke-width="2.0" stroke-linecap="butt"/>
<line x1="308.30" y1="204.40" x2="308.30" y2="339.35" stroke="#111" stroke-width="1.3" stroke-linecap="butt"/>
<line x1="307.65" y1="338.70" x2="496.00" y2="338.70" stroke="#111" stroke-width="1.3" stroke-linecap="butt"/>
<line x1="305.00" y1="337.30" x2="308.30" y2="337.30" stroke="#111" stroke-width="1.2" stroke-linecap="butt"/>
<text x="302.30" y="340.25" font-size="8.3" fill="#222" stroke="#222" stroke-width="0.22" text-anchor="end" textLength="16.83" lengthAdjust="spacingAndGlyphs">−200</text>
<line x1="305.00" y1="305.30" x2="308.30" y2="305.30" stroke="#111" stroke-width="1.2" stroke-linecap="butt"/>
<text x="302.30" y="308.25" font-size="8.3" fill="#222" stroke="#222" stroke-width="0.22" text-anchor="end" textLength="4.15" lengthAdjust="spacingAndGlyphs">0</text>
<line x1="305.00" y1="273.40" x2="308.30" y2="273.40" stroke="#111" stroke-width="1.2" stroke-linecap="butt"/>
<text x="302.30" y="276.35" font-size="8.3" fill="#222" stroke="#222" stroke-width="0.22" text-anchor="end" textLength="12.46" lengthAdjust="spacingAndGlyphs">200</text>
<line x1="305.00" y1="241.40" x2="308.30" y2="241.40" stroke="#111" stroke-width="1.2" stroke-linecap="butt"/>
<text x="302.30" y="244.35" font-size="8.3" fill="#222" stroke="#222" stroke-width="0.22" text-anchor="end" textLength="12.46" lengthAdjust="spacingAndGlyphs">400</text>
<line x1="305.00" y1="209.50" x2="308.30" y2="209.50" stroke="#111" stroke-width="1.2" stroke-linecap="butt"/>
<text x="302.30" y="212.45" font-size="8.3" fill="#222" stroke="#222" stroke-width="0.22" text-anchor="end" textLength="12.46" lengthAdjust="spacingAndGlyphs">600</text>
<line x1="316.60" y1="338.70" x2="316.60" y2="342.00" stroke="#111" stroke-width="1.2" stroke-linecap="butt"/>
<text x="316.60" y="352.60" font-size="8.3" fill="#222" stroke="#222" stroke-width="0.22" text-anchor="middle" textLength="13.73" lengthAdjust="spacingAndGlyphs">0.00</text>
<line x1="359.20" y1="338.70" x2="359.20" y2="342.00" stroke="#111" stroke-width="1.2" stroke-linecap="butt"/>
<text x="359.20" y="352.60" font-size="8.3" fill="#222" stroke="#222" stroke-width="0.22" text-anchor="middle" textLength="13.73" lengthAdjust="spacingAndGlyphs">0.25</text>
<line x1="401.60" y1="338.70" x2="401.60" y2="342.00" stroke="#111" stroke-width="1.2" stroke-linecap="butt"/>
<text x="401.60" y="352.60" font-size="8.3" fill="#222" stroke="#222" stroke-width="0.22" text-anchor="middle" textLength="13.73" lengthAdjust="spacingAndGlyphs">0.50</text>
<line x1="444.10" y1="338.70" x2="444.10" y2="342.00" stroke="#111" stroke-width="1.2" stroke-linecap="butt"/>
<text x="444.10" y="352.60" font-size="8.3" fill="#222" stroke="#222" stroke-width="0.22" text-anchor="middle" textLength="13.73" lengthAdjust="spacingAndGlyphs">0.75</text>
<line x1="486.50" y1="338.70" x2="486.50" y2="342.00" stroke="#111" stroke-width="1.2" stroke-linecap="butt"/>
<text x="486.50" y="352.60" font-size="8.3" fill="#222" stroke="#222" stroke-width="0.22" text-anchor="middle" textLength="13.73" lengthAdjust="spacingAndGlyphs">1.00</text>
<text x="369.00" y="209.30" font-size="8.8" fill="#222" stroke="#222" stroke-width="0.22" textLength="20.70" lengthAdjust="spacingAndGlyphs">SF3B1</text>
<circle cx="404.50" cy="206.40" r="1.85" fill="#10245e"/>
<text x="410.90" y="209.30" font-size="8.6" fill="#222" stroke="#222" stroke-width="0.22" textLength="25.80" lengthAdjust="spacingAndGlyphs">mutant</text>
<path d="M451.70 204.15L454.35 208.74L449.05 208.74Z" fill="#9a0e1e"/>
<text x="460.60" y="209.30" font-size="8.6" fill="#222" stroke="#222" stroke-width="0.22" textLength="33.20" lengthAdjust="spacingAndGlyphs">wild-type</text>
<text x="402.00" y="365.60" font-size="9.2" fill="#1a1a1a" stroke="#1a1a1a" stroke-width="0.22" text-anchor="middle" textLength="103.00" lengthAdjust="spacingAndGlyphs">NICN1 (RI event ID 4728)</text>
<text x="278.40" y="271.80" font-size="9.2" fill="#111" stroke="#111" stroke-width="0.22" text-anchor="middle" textLength="57.50" lengthAdjust="spacingAndGlyphs" transform="rotate(-90 278.40 271.80)">Platelet count</text>
<line x1="52.50" y1="383.80" x2="52.50" y2="514.95" stroke="#111" stroke-width="1.3" stroke-linecap="butt"/>
<line x1="51.85" y1="514.30" x2="247.30" y2="514.30" stroke="#111" stroke-width="1.3" stroke-linecap="butt"/>
<line x1="49.20" y1="389.40" x2="52.50" y2="389.40" stroke="#111" stroke-width="1.2" stroke-linecap="butt"/>
<text x="46.50" y="392.35" font-size="8.3" fill="#222" stroke="#222" stroke-width="0.22" text-anchor="end" textLength="13.73" lengthAdjust="spacingAndGlyphs">1.00</text>
<line x1="49.20" y1="419.05" x2="52.50" y2="419.05" stroke="#111" stroke-width="1.2" stroke-linecap="butt"/>
<text x="46.50" y="422.00" font-size="8.3" fill="#222" stroke="#222" stroke-width="0.22" text-anchor="end" textLength="13.73" lengthAdjust="spacingAndGlyphs">0.75</text>
<line x1="49.20" y1="448.70" x2="52.50" y2="448.70" stroke="#111" stroke-width="1.2" stroke-linecap="butt"/>
<text x="46.50" y="451.65" font-size="8.3" fill="#222" stroke="#222" stroke-width="0.22" text-anchor="end" textLength="13.73" lengthAdjust="spacingAndGlyphs">0.50</text>
<line x1="49.20" y1="478.35" x2="52.50" y2="478.35" stroke="#111" stroke-width="1.2" stroke-linecap="butt"/>
<text x="46.50" y="481.30" font-size="8.3" fill="#222" stroke="#222" stroke-width="0.22" text-anchor="end" textLength="13.73" lengthAdjust="spacingAndGlyphs">0.25</text>
<line x1="49.20" y1="508.00" x2="52.50" y2="508.00" stroke="#111" stroke-width="1.2" stroke-linecap="butt"/>
<text x="46.50" y="510.95" font-size="8.3" fill="#222" stroke="#222" stroke-width="0.22" text-anchor="end" textLength="13.73" lengthAdjust="spacingAndGlyphs">0.00</text>
<line x1="62.00" y1="514.30" x2="62.00" y2="517.60" stroke="#111" stroke-width="1.2" stroke-linecap="butt"/>
<text x="62.00" y="528.20" font-size="8.3" fill="#222" stroke="#222" stroke-width="0.22" text-anchor="middle" textLength="4.15" lengthAdjust="spacingAndGlyphs">0</text>
<line x1="88.30" y1="514.30" x2="88.30" y2="517.60" stroke="#111" stroke-width="1.2" stroke-linecap="butt"/>
<text x="88.30" y="528.20" font-size="8.3" fill="#222" stroke="#222" stroke-width="0.22" text-anchor="middle" textLength="12.46" lengthAdjust="spacingAndGlyphs">365</text>
<line x1="114.60" y1="514.30" x2="114.60" y2="517.60" stroke="#111" stroke-width="1.2" stroke-linecap="butt"/>
<text x="114.60" y="528.20" font-size="8.3" fill="#222" stroke="#222" stroke-width="0.22" text-anchor="middle" textLength="12.46" lengthAdjust="spacingAndGlyphs">730</text>
<line x1="140.90" y1="514.30" x2="140.90" y2="517.60" stroke="#111" stroke-width="1.2" stroke-linecap="butt"/>
<text x="140.90" y="528.20" font-size="8.3" fill="#222" stroke="#222" stroke-width="0.22" text-anchor="middle" textLength="16.62" lengthAdjust="spacingAndGlyphs">1095</text>
<line x1="167.20" y1="514.30" x2="167.20" y2="517.60" stroke="#111" stroke-width="1.2" stroke-linecap="butt"/>
<text x="167.20" y="528.20" font-size="8.3" fill="#222" stroke="#222" stroke-width="0.22" text-anchor="middle" textLength="16.62" lengthAdjust="spacingAndGlyphs">1460</text>
<line x1="193.50" y1="514.30" x2="193.50" y2="517.60" stroke="#111" stroke-width="1.2" stroke-linecap="butt"/>
<text x="193.50" y="528.20" font-size="8.3" fill="#222" stroke="#222" stroke-width="0.22" text-anchor="middle" textLength="16.62" lengthAdjust="spacingAndGlyphs">1825</text>
<line x1="219.80" y1="514.30" x2="219.80" y2="517.60" stroke="#111" stroke-width="1.2" stroke-linecap="butt"/>
<text x="219.80" y="528.20" font-size="8.3" fill="#222" stroke="#222" stroke-width="0.22" text-anchor="middle" textLength="16.62" lengthAdjust="spacingAndGlyphs">2190</text>
<text x="89.60" y="384.40" font-size="8.2" fill="#111" stroke="#111" stroke-width="0.22" textLength="120.80" lengthAdjust="spacingAndGlyphs">PTPRC (transcript ENST00000575923)</text>
<line x1="194.00" y1="395.40" x2="204.50" y2="395.40" stroke="#b00a2a" stroke-width="1.5" stroke-linecap="butt"/>
<line x1="199.20" y1="393.00" x2="199.20" y2="397.80" stroke="#e0a0a0" stroke-width="1.0" stroke-linecap="butt"/>
<text x="210.80" y="398.30" font-size="8.0" fill="#111" stroke="#111" stroke-width="0.22" textLength="36.90" lengthAdjust="spacingAndGlyphs">PTPRC High</text>
<line x1="194.00" y1="406.50" x2="204.50" y2="406.50" stroke="#2f4f8a" stroke-width="1.5" stroke-linecap="butt"/>
<line x1="199.20" y1="404.10" x2="199.20" y2="408.90" stroke="#8e9cc6" stroke-width="1.0" stroke-linecap="butt"/>
<text x="210.80" y="409.40" font-size="8.0" fill="#111" stroke="#111" stroke-width="0.22" textLength="36.00" lengthAdjust="spacingAndGlyphs">PTPRC Low</text>
<text x="56.00" y="495.40" font-size="7.8" fill="#111" stroke="#111" stroke-width="0.22" textLength="80.50" lengthAdjust="spacingAndGlyphs">Cox prop. haz. p = 0.0093</text>
<text x="56.00" y="503.40" font-size="7.8" fill="#111" stroke="#111" stroke-width="0.22" textLength="96.00" lengthAdjust="spacingAndGlyphs">HR for low expression = 0.222</text>
<text x="150.10" y="541.00" font-size="9.2" fill="#111" stroke="#111" stroke-width="0.22" text-anchor="middle" textLength="47.20" lengthAdjust="spacingAndGlyphs">Time (days)</text>
<text x="24.70" y="449.70" font-size="9.2" fill="#111" stroke="#111" stroke-width="0.22" text-anchor="middle" textLength="82.00" lengthAdjust="spacingAndGlyphs" transform="rotate(-90 24.70 449.70)">Survival probability</text>
<line x1="307.90" y1="385.40" x2="307.90" y2="515.15" stroke="#111" stroke-width="1.3" stroke-linecap="butt"/>
<line x1="307.25" y1="514.50" x2="512.30" y2="514.50" stroke="#111" stroke-width="1.3" stroke-linecap="butt"/>
<line x1="304.60" y1="391.20" x2="307.90" y2="391.20" stroke="#111" stroke-width="1.2" stroke-linecap="butt"/>
<text x="301.90" y="394.15" font-size="8.3" fill="#222" stroke="#222" stroke-width="0.22" text-anchor="end" textLength="13.73" lengthAdjust="spacingAndGlyphs">1.00</text>
<line x1="304.60" y1="420.55" x2="307.90" y2="420.55" stroke="#111" stroke-width="1.2" stroke-linecap="butt"/>
<text x="301.90" y="423.50" font-size="8.3" fill="#222" stroke="#222" stroke-width="0.22" text-anchor="end" textLength="13.73" lengthAdjust="spacingAndGlyphs">0.75</text>
<line x1="304.60" y1="449.90" x2="307.90" y2="449.90" stroke="#111" stroke-width="1.2" stroke-linecap="butt"/>
<text x="301.90" y="452.85" font-size="8.3" fill="#222" stroke="#222" stroke-width="0.22" text-anchor="end" textLength="13.73" lengthAdjust="spacingAndGlyphs">0.50</text>
<line x1="304.60" y1="479.25" x2="307.90" y2="479.25" stroke="#111" stroke-width="1.2" stroke-linecap="butt"/>
<text x="301.90" y="482.20" font-size="8.3" fill="#222" stroke="#222" stroke-width="0.22" text-anchor="end" textLength="13.73" lengthAdjust="spacingAndGlyphs">0.25</text>
<line x1="304.60" y1="508.60" x2="307.90" y2="508.60" stroke="#111" stroke-width="1.2" stroke-linecap="butt"/>
<text x="301.90" y="511.55" font-size="8.3" fill="#222" stroke="#222" stroke-width="0.22" text-anchor="end" textLength="13.73" lengthAdjust="spacingAndGlyphs">0.00</text>
<line x1="318.10" y1="514.50" x2="318.10" y2="517.80" stroke="#111" stroke-width="1.2" stroke-linecap="butt"/>
<text x="318.10" y="528.40" font-size="8.3" fill="#222" stroke="#222" stroke-width="0.22" text-anchor="middle" textLength="4.15" lengthAdjust="spacingAndGlyphs">0</text>
<line x1="340.60" y1="514.50" x2="340.60" y2="517.80" stroke="#111" stroke-width="1.2" stroke-linecap="butt"/>
<text x="340.60" y="528.40" font-size="8.3" fill="#222" stroke="#222" stroke-width="0.22" text-anchor="middle" textLength="12.46" lengthAdjust="spacingAndGlyphs">365</text>
<line x1="363.10" y1="514.50" x2="363.10" y2="517.80" stroke="#111" stroke-width="1.2" stroke-linecap="butt"/>
<text x="363.10" y="528.40" font-size="8.3" fill="#222" stroke="#222" stroke-width="0.22" text-anchor="middle" textLength="12.46" lengthAdjust="spacingAndGlyphs">730</text>
<line x1="385.60" y1="514.50" x2="385.60" y2="517.80" stroke="#111" stroke-width="1.2" stroke-linecap="butt"/>
<text x="385.60" y="528.40" font-size="8.3" fill="#222" stroke="#222" stroke-width="0.22" text-anchor="middle" textLength="16.62" lengthAdjust="spacingAndGlyphs">1095</text>
<line x1="408.10" y1="514.50" x2="408.10" y2="517.80" stroke="#111" stroke-width="1.2" stroke-linecap="butt"/>
<text x="408.10" y="528.40" font-size="8.3" fill="#222" stroke="#222" stroke-width="0.22" text-anchor="middle" textLength="16.62" lengthAdjust="spacingAndGlyphs">1460</text>
<line x1="430.60" y1="514.50" x2="430.60" y2="517.80" stroke="#111" stroke-width="1.2" stroke-linecap="butt"/>
<text x="430.60" y="528.40" font-size="8.3" fill="#222" stroke="#222" stroke-width="0.22" text-anchor="middle" textLength="16.62" lengthAdjust="spacingAndGlyphs">1825</text>
<line x1="453.10" y1="514.50" x2="453.10" y2="517.80" stroke="#111" stroke-width="1.2" stroke-linecap="butt"/>
<text x="453.10" y="528.40" font-size="8.3" fill="#222" stroke="#222" stroke-width="0.22" text-anchor="middle" textLength="16.62" lengthAdjust="spacingAndGlyphs">2190</text>
<line x1="475.60" y1="514.50" x2="475.60" y2="517.80" stroke="#111" stroke-width="1.2" stroke-linecap="butt"/>
<text x="475.60" y="528.40" font-size="8.3" fill="#222" stroke="#222" stroke-width="0.22" text-anchor="middle" textLength="16.62" lengthAdjust="spacingAndGlyphs">2555</text>
<line x1="498.10" y1="514.50" x2="498.10" y2="517.80" stroke="#111" stroke-width="1.2" stroke-linecap="butt"/>
<text x="498.10" y="528.40" font-size="8.3" fill="#222" stroke="#222" stroke-width="0.22" text-anchor="middle" textLength="16.62" lengthAdjust="spacingAndGlyphs">2920</text>
<text x="362.50" y="384.60" font-size="8.2" fill="#111" stroke="#111" stroke-width="0.22" textLength="96.60" lengthAdjust="spacingAndGlyphs">PTPRC (transcript uc001gut.1)</text>
<line x1="456.00" y1="394.60" x2="466.50" y2="394.60" stroke="#b00a2a" stroke-width="1.5" stroke-linecap="butt"/>
<line x1="461.20" y1="392.20" x2="461.20" y2="397.00" stroke="#e0a0a0" stroke-width="1.0" stroke-linecap="butt"/>
<text x="473.20" y="397.50" font-size="8.0" fill="#111" stroke="#111" stroke-width="0.22" textLength="37.60" lengthAdjust="spacingAndGlyphs">PTPRC High</text>
<line x1="456.00" y1="406.90" x2="466.50" y2="406.90" stroke="#2f4f8a" stroke-width="1.5" stroke-linecap="butt"/>
<line x1="461.20" y1="404.50" x2="461.20" y2="409.30" stroke="#8e9cc6" stroke-width="1.0" stroke-linecap="butt"/>
<text x="473.20" y="409.80" font-size="8.0" fill="#111" stroke="#111" stroke-width="0.22" textLength="35.40" lengthAdjust="spacingAndGlyphs">PTPRC Low</text>
<text x="319.00" y="502.20" font-size="8.0" fill="#111" stroke="#111" stroke-width="0.22" textLength="36.00" lengthAdjust="spacingAndGlyphs">p = 0.0054</text>
<text x="410.00" y="541.00" font-size="9.2" fill="#111" stroke="#111" stroke-width="0.22" text-anchor="middle" textLength="48.20" lengthAdjust="spacingAndGlyphs">Time (days)</text>
<text x="280.30" y="450.00" font-size="9.2" fill="#111" stroke="#111" stroke-width="0.22" text-anchor="middle" textLength="82.00" lengthAdjust="spacingAndGlyphs" transform="rotate(-90 280.30 450.00)">Survival probability</text>
<line x1="52.50" y1="559.40" x2="52.50" y2="690.55" stroke="#111" stroke-width="1.3" stroke-linecap="butt"/>
<line x1="51.85" y1="689.90" x2="247.30" y2="689.90" stroke="#111" stroke-width="1.3" stroke-linecap="butt"/>
<line x1="49.20" y1="564.60" x2="52.50" y2="564.60" stroke="#111" stroke-width="1.2" stroke-linecap="butt"/>
<text x="46.50" y="567.55" font-size="8.3" fill="#222" stroke="#222" stroke-width="0.22" text-anchor="end" textLength="13.73" lengthAdjust="spacingAndGlyphs">1.00</text>
<line x1="49.20" y1="594.50" x2="52.50" y2="594.50" stroke="#111" stroke-width="1.2" stroke-linecap="butt"/>
<text x="46.50" y="597.45" font-size="8.3" fill="#222" stroke="#222" stroke-width="0.22" text-anchor="end" textLength="13.73" lengthAdjust="spacingAndGlyphs">0.75</text>
<line x1="49.20" y1="624.40" x2="52.50" y2="624.40" stroke="#111" stroke-width="1.2" stroke-linecap="butt"/>
<text x="46.50" y="627.35" font-size="8.3" fill="#222" stroke="#222" stroke-width="0.22" text-anchor="end" textLength="13.73" lengthAdjust="spacingAndGlyphs">0.50</text>
<line x1="49.20" y1="654.30" x2="52.50" y2="654.30" stroke="#111" stroke-width="1.2" stroke-linecap="butt"/>
<text x="46.50" y="657.25" font-size="8.3" fill="#222" stroke="#222" stroke-width="0.22" text-anchor="end" textLength="13.73" lengthAdjust="spacingAndGlyphs">0.25</text>
<line x1="49.20" y1="684.20" x2="52.50" y2="684.20" stroke="#111" stroke-width="1.2" stroke-linecap="butt"/>
<text x="46.50" y="687.15" font-size="8.3" fill="#222" stroke="#222" stroke-width="0.22" text-anchor="end" textLength="13.73" lengthAdjust="spacingAndGlyphs">0.00</text>
<line x1="61.20" y1="689.90" x2="61.20" y2="693.20" stroke="#111" stroke-width="1.2" stroke-linecap="butt"/>
<text x="61.20" y="703.80" font-size="8.3" fill="#222" stroke="#222" stroke-width="0.22" text-anchor="middle" textLength="4.15" lengthAdjust="spacingAndGlyphs">0</text>
<line x1="87.10" y1="689.90" x2="87.10" y2="693.20" stroke="#111" stroke-width="1.2" stroke-linecap="butt"/>
<text x="87.10" y="703.80" font-size="8.3" fill="#222" stroke="#222" stroke-width="0.22" text-anchor="middle" textLength="12.46" lengthAdjust="spacingAndGlyphs">365</text>
<line x1="113.00" y1="689.90" x2="113.00" y2="693.20" stroke="#111" stroke-width="1.2" stroke-linecap="butt"/>
<text x="113.00" y="703.80" font-size="8.3" fill="#222" stroke="#222" stroke-width="0.22" text-anchor="middle" textLength="12.46" lengthAdjust="spacingAndGlyphs">730</text>
<line x1="138.90" y1="689.90" x2="138.90" y2="693.20" stroke="#111" stroke-width="1.2" stroke-linecap="butt"/>
<text x="138.90" y="703.80" font-size="8.3" fill="#222" stroke="#222" stroke-width="0.22" text-anchor="middle" textLength="16.62" lengthAdjust="spacingAndGlyphs">1095</text>
<line x1="164.80" y1="689.90" x2="164.80" y2="693.20" stroke="#111" stroke-width="1.2" stroke-linecap="butt"/>
<text x="164.80" y="703.80" font-size="8.3" fill="#222" stroke="#222" stroke-width="0.22" text-anchor="middle" textLength="16.62" lengthAdjust="spacingAndGlyphs">1460</text>
<line x1="190.70" y1="689.90" x2="190.70" y2="693.20" stroke="#111" stroke-width="1.2" stroke-linecap="butt"/>
<text x="190.70" y="703.80" font-size="8.3" fill="#222" stroke="#222" stroke-width="0.22" text-anchor="middle" textLength="16.62" lengthAdjust="spacingAndGlyphs">1825</text>
<line x1="216.60" y1="689.90" x2="216.60" y2="693.20" stroke="#111" stroke-width="1.2" stroke-linecap="butt"/>
<text x="216.60" y="703.80" font-size="8.3" fill="#222" stroke="#222" stroke-width="0.22" text-anchor="middle" textLength="16.62" lengthAdjust="spacingAndGlyphs">2190</text>
<text x="91.00" y="559.30" font-size="8.2" fill="#111" stroke="#111" stroke-width="0.22" textLength="117.30" lengthAdjust="spacingAndGlyphs">IFI44L (transcript ENST00000462041)</text>
<line x1="197.20" y1="570.20" x2="207.70" y2="570.20" stroke="#b00a2a" stroke-width="1.5" stroke-linecap="butt"/>
<line x1="202.40" y1="567.80" x2="202.40" y2="572.60" stroke="#e0a0a0" stroke-width="1.0" stroke-linecap="butt"/>
<text x="212.60" y="573.10" font-size="8.0" fill="#111" stroke="#111" stroke-width="0.22" textLength="34.40" lengthAdjust="spacingAndGlyphs">IF44L High</text>
<line x1="197.20" y1="581.60" x2="207.70" y2="581.60" stroke="#2f4f8a" stroke-width="1.5" stroke-linecap="butt"/>
<line x1="202.40" y1="579.20" x2="202.40" y2="584.00" stroke="#8e9cc6" stroke-width="1.0" stroke-linecap="butt"/>
<text x="212.60" y="584.50" font-size="8.0" fill="#111" stroke="#111" stroke-width="0.22" textLength="32.50" lengthAdjust="spacingAndGlyphs">IF44L Low</text>
<text x="60.70" y="672.60" font-size="7.8" fill="#111" stroke="#111" stroke-width="0.22" textLength="77.00" lengthAdjust="spacingAndGlyphs">Cox prop. haz. p = 0.0086</text>
<text x="60.70" y="680.30" font-size="7.8" fill="#111" stroke="#111" stroke-width="0.22" textLength="95.30" lengthAdjust="spacingAndGlyphs">HR for low expression = 0.202</text>
<text x="150.10" y="716.70" font-size="9.2" fill="#111" stroke="#111" stroke-width="0.22" text-anchor="middle" textLength="47.20" lengthAdjust="spacingAndGlyphs">Time (days)</text>
<text x="24.70" y="625.00" font-size="9.2" fill="#111" stroke="#111" stroke-width="0.22" text-anchor="middle" textLength="82.00" lengthAdjust="spacingAndGlyphs" transform="rotate(-90 24.70 625.00)">Survival probability</text>
<line x1="308.30" y1="562.30" x2="308.30" y2="690.25" stroke="#111" stroke-width="1.3" stroke-linecap="butt"/>
<line x1="307.65" y1="689.60" x2="509.60" y2="689.60" stroke="#111" stroke-width="1.3" stroke-linecap="butt"/>
<line x1="305.00" y1="567.50" x2="308.30" y2="567.50" stroke="#111" stroke-width="1.2" stroke-linecap="butt"/>
<text x="302.30" y="570.45" font-size="8.3" fill="#222" stroke="#222" stroke-width="0.22" text-anchor="end" textLength="13.73" lengthAdjust="spacingAndGlyphs">1.00</text>
<line x1="305.00" y1="596.70" x2="308.30" y2="596.70" stroke="#111" stroke-width="1.2" stroke-linecap="butt"/>
<text x="302.30" y="599.65" font-size="8.3" fill="#222" stroke="#222" stroke-width="0.22" text-anchor="end" textLength="13.73" lengthAdjust="spacingAndGlyphs">0.75</text>
<line x1="305.00" y1="625.90" x2="308.30" y2="625.90" stroke="#111" stroke-width="1.2" stroke-linecap="butt"/>
<text x="302.30" y="628.85" font-size="8.3" fill="#222" stroke="#222" stroke-width="0.22" text-anchor="end" textLength="13.73" lengthAdjust="spacingAndGlyphs">0.50</text>
<line x1="305.00" y1="655.10" x2="308.30" y2="655.10" stroke="#111" stroke-width="1.2" stroke-linecap="butt"/>
<text x="302.30" y="658.05" font-size="8.3" fill="#222" stroke="#222" stroke-width="0.22" text-anchor="end" textLength="13.73" lengthAdjust="spacingAndGlyphs">0.25</text>
<line x1="305.00" y1="684.30" x2="308.30" y2="684.30" stroke="#111" stroke-width="1.2" stroke-linecap="butt"/>
<text x="302.30" y="687.25" font-size="8.3" fill="#222" stroke="#222" stroke-width="0.22" text-anchor="end" textLength="13.73" lengthAdjust="spacingAndGlyphs">0.00</text>
<line x1="317.10" y1="689.60" x2="317.10" y2="692.90" stroke="#111" stroke-width="1.2" stroke-linecap="butt"/>
<text x="317.10" y="703.50" font-size="8.3" fill="#222" stroke="#222" stroke-width="0.22" text-anchor="middle" textLength="4.15" lengthAdjust="spacingAndGlyphs">0</text>
<line x1="339.40" y1="689.60" x2="339.40" y2="692.90" stroke="#111" stroke-width="1.2" stroke-linecap="butt"/>
<text x="339.40" y="703.50" font-size="8.3" fill="#222" stroke="#222" stroke-width="0.22" text-anchor="middle" textLength="12.46" lengthAdjust="spacingAndGlyphs">365</text>
<line x1="361.70" y1="689.60" x2="361.70" y2="692.90" stroke="#111" stroke-width="1.2" stroke-linecap="butt"/>
<text x="361.70" y="703.50" font-size="8.3" fill="#222" stroke="#222" stroke-width="0.22" text-anchor="middle" textLength="12.46" lengthAdjust="spacingAndGlyphs">730</text>
<line x1="384.00" y1="689.60" x2="384.00" y2="692.90" stroke="#111" stroke-width="1.2" stroke-linecap="butt"/>
<text x="384.00" y="703.50" font-size="8.3" fill="#222" stroke="#222" stroke-width="0.22" text-anchor="middle" textLength="16.62" lengthAdjust="spacingAndGlyphs">1095</text>
<line x1="406.30" y1="689.60" x2="406.30" y2="692.90" stroke="#111" stroke-width="1.2" stroke-linecap="butt"/>
<text x="406.30" y="703.50" font-size="8.3" fill="#222" stroke="#222" stroke-width="0.22" text-anchor="middle" textLength="16.62" lengthAdjust="spacingAndGlyphs">1460</text>
<line x1="428.60" y1="689.60" x2="428.60" y2="692.90" stroke="#111" stroke-width="1.2" stroke-linecap="butt"/>
<text x="428.60" y="703.50" font-size="8.3" fill="#222" stroke="#222" stroke-width="0.22" text-anchor="middle" textLength="16.62" lengthAdjust="spacingAndGlyphs">1825</text>
<line x1="450.90" y1="689.60" x2="450.90" y2="692.90" stroke="#111" stroke-width="1.2" stroke-linecap="butt"/>
<text x="450.90" y="703.50" font-size="8.3" fill="#222" stroke="#222" stroke-width="0.22" text-anchor="middle" textLength="16.62" lengthAdjust="spacingAndGlyphs">2190</text>
<line x1="473.20" y1="689.60" x2="473.20" y2="692.90" stroke="#111" stroke-width="1.2" stroke-linecap="butt"/>
<text x="473.20" y="703.50" font-size="8.3" fill="#222" stroke="#222" stroke-width="0.22" text-anchor="middle" textLength="16.62" lengthAdjust="spacingAndGlyphs">2555</text>
<line x1="495.50" y1="689.60" x2="495.50" y2="692.90" stroke="#111" stroke-width="1.2" stroke-linecap="butt"/>
<text x="495.50" y="703.50" font-size="8.3" fill="#222" stroke="#222" stroke-width="0.22" text-anchor="middle" textLength="16.62" lengthAdjust="spacingAndGlyphs">2920</text>
<text x="361.50" y="562.00" font-size="8.2" fill="#111" stroke="#111" stroke-width="0.22" textLength="95.40" lengthAdjust="spacingAndGlyphs">IFI44L (transcript uc010orq.1)</text>
<line x1="456.90" y1="572.00" x2="467.40" y2="572.00" stroke="#b00a2a" stroke-width="1.5" stroke-linecap="butt"/>
<line x1="462.10" y1="569.60" x2="462.10" y2="574.40" stroke="#e0a0a0" stroke-width="1.0" stroke-linecap="butt"/>
<text x="473.20" y="574.90" font-size="8.0" fill="#111" stroke="#111" stroke-width="0.22" textLength="34.50" lengthAdjust="spacingAndGlyphs">IF44L High</text>
<line x1="456.90" y1="584.00" x2="467.40" y2="584.00" stroke="#2f4f8a" stroke-width="1.5" stroke-linecap="butt"/>
<line x1="462.10" y1="581.60" x2="462.10" y2="586.40" stroke="#8e9cc6" stroke-width="1.0" stroke-linecap="butt"/>
<text x="473.20" y="586.90" font-size="8.0" fill="#111" stroke="#111" stroke-width="0.22" textLength="33.00" lengthAdjust="spacingAndGlyphs">IF44L Low</text>
<text x="324.30" y="680.00" font-size="8.0" fill="#111" stroke="#111" stroke-width="0.22" textLength="29.00" lengthAdjust="spacingAndGlyphs">p = 0.011</text>
<text x="409.30" y="715.20" font-size="9.2" fill="#111" stroke="#111" stroke-width="0.22" text-anchor="middle" textLength="47.80" lengthAdjust="spacingAndGlyphs">Time (days)</text>
<text x="280.10" y="626.00" font-size="9.2" fill="#111" stroke="#111" stroke-width="0.22" text-anchor="middle" textLength="81.50" lengthAdjust="spacingAndGlyphs" transform="rotate(-90 280.10 626.00)">Survival probability</text>
<path d="M58.80 389.20L73.60 389.20L73.60 397.30L87.00 397.30L87.00 400.80L88.90 400.80L88.90 404.20L90.70 404.20L90.70 409.40L99.10 409.40L99.10 413.50L108.30 413.50L108.30 418.00L114.00 418.00L114.00 422.70L127.50 422.70L127.50 426.70L130.80 426.70L130.80 431.50L134.60 431.50L134.60 437.10L136.20 437.10L136.20 442.00L156.50 442.00L156.50 448.10L207.00 448.10L207.00 478.10L241.50 478.10" fill="none" stroke="#b00a2a" stroke-width="1.5" stroke-linejoin="miter"/>
<path d="M58.80 389.20L77.20 389.20L77.20 393.30L91.80 393.30L91.80 395.00L93.00 395.00L93.00 398.50L93.80 398.50L93.80 403.00L128.80 403.00L128.80 407.50L140.40 407.50L140.40 413.40L177.00 413.40L177.00 425.00L220.40 425.00" fill="none" stroke="#2f4f8a" stroke-width="1.5" stroke-linejoin="miter"/>
<line x1="61.20" y1="386.40" x2="61.20" y2="392.00" stroke="#e0a0a0" stroke-width="1.2" stroke-linecap="butt"/>
<line x1="58.90" y1="389.20" x2="63.50" y2="389.20" stroke="#e0a0a0" stroke-width="1.6" stroke-linecap="butt"/>
<line x1="63.50" y1="386.40" x2="63.50" y2="392.00" stroke="#e0a0a0" stroke-width="1.2" stroke-linecap="butt"/>
<line x1="61.20" y1="389.20" x2="65.80" y2="389.20" stroke="#e0a0a0" stroke-width="1.6" stroke-linecap="butt"/>
<line x1="72.20" y1="386.40" x2="72.20" y2="392.00" stroke="#e0a0a0" stroke-width="1.2" stroke-linecap="butt"/>
<line x1="69.90" y1="389.20" x2="74.50" y2="389.20" stroke="#e0a0a0" stroke-width="1.6" stroke-linecap="butt"/>
<line x1="74.50" y1="394.50" x2="74.50" y2="400.10" stroke="#e0a0a0" stroke-width="1.2" stroke-linecap="butt"/>
<line x1="72.20" y1="397.30" x2="76.80" y2="397.30" stroke="#e0a0a0" stroke-width="1.6" stroke-linecap="butt"/>
<line x1="91.80" y1="406.60" x2="91.80" y2="412.20" stroke="#e0a0a0" stroke-width="1.2" stroke-linecap="butt"/>
<line x1="89.50" y1="409.40" x2="94.10" y2="409.40" stroke="#e0a0a0" stroke-width="1.6" stroke-linecap="butt"/>
<line x1="94.70" y1="406.60" x2="94.70" y2="412.20" stroke="#e0a0a0" stroke-width="1.2" stroke-linecap="butt"/>
<line x1="92.40" y1="409.40" x2="97.00" y2="409.40" stroke="#e0a0a0" stroke-width="1.6" stroke-linecap="butt"/>
<line x1="97.90" y1="406.60" x2="97.90" y2="412.20" stroke="#e0a0a0" stroke-width="1.2" stroke-linecap="butt"/>
<line x1="95.60" y1="409.40" x2="100.20" y2="409.40" stroke="#e0a0a0" stroke-width="1.6" stroke-linecap="butt"/>
<line x1="130.80" y1="425.20" x2="130.80" y2="430.80" stroke="#e0a0a0" stroke-width="1.2" stroke-linecap="butt"/>
<line x1="128.50" y1="428.00" x2="133.10" y2="428.00" stroke="#e0a0a0" stroke-width="1.6" stroke-linecap="butt"/>
<line x1="136.50" y1="435.20" x2="136.50" y2="440.80" stroke="#e0a0a0" stroke-width="1.2" stroke-linecap="butt"/>
<line x1="134.20" y1="438.00" x2="138.80" y2="438.00" stroke="#e0a0a0" stroke-width="1.6" stroke-linecap="butt"/>
<line x1="139.40" y1="439.20" x2="139.40" y2="444.80" stroke="#e0a0a0" stroke-width="1.2" stroke-linecap="butt"/>
<line x1="137.10" y1="442.00" x2="141.70" y2="442.00" stroke="#e0a0a0" stroke-width="1.6" stroke-linecap="butt"/>
<line x1="143.70" y1="439.20" x2="143.70" y2="444.80" stroke="#e0a0a0" stroke-width="1.2" stroke-linecap="butt"/>
<line x1="141.40" y1="442.00" x2="146.00" y2="442.00" stroke="#e0a0a0" stroke-width="1.6" stroke-linecap="butt"/>
<line x1="156.50" y1="445.30" x2="156.50" y2="450.90" stroke="#e0a0a0" stroke-width="1.2" stroke-linecap="butt"/>
<line x1="154.20" y1="448.10" x2="158.80" y2="448.10" stroke="#e0a0a0" stroke-width="1.6" stroke-linecap="butt"/>
<line x1="169.60" y1="445.30" x2="169.60" y2="450.90" stroke="#e0a0a0" stroke-width="1.2" stroke-linecap="butt"/>
<line x1="167.30" y1="448.10" x2="171.90" y2="448.10" stroke="#e0a0a0" stroke-width="1.6" stroke-linecap="butt"/>
<line x1="173.80" y1="445.30" x2="173.80" y2="450.90" stroke="#e0a0a0" stroke-width="1.2" stroke-linecap="butt"/>
<line x1="171.50" y1="448.10" x2="176.10" y2="448.10" stroke="#e0a0a0" stroke-width="1.6" stroke-linecap="butt"/>
<line x1="177.70" y1="445.30" x2="177.70" y2="450.90" stroke="#e0a0a0" stroke-width="1.2" stroke-linecap="butt"/>
<line x1="175.40" y1="448.10" x2="180.00" y2="448.10" stroke="#e0a0a0" stroke-width="1.6" stroke-linecap="butt"/>
<line x1="180.20" y1="445.30" x2="180.20" y2="450.90" stroke="#e0a0a0" stroke-width="1.2" stroke-linecap="butt"/>
<line x1="177.90" y1="448.10" x2="182.50" y2="448.10" stroke="#e0a0a0" stroke-width="1.6" stroke-linecap="butt"/>
<line x1="190.80" y1="445.30" x2="190.80" y2="450.90" stroke="#e0a0a0" stroke-width="1.2" stroke-linecap="butt"/>
<line x1="188.50" y1="448.10" x2="193.10" y2="448.10" stroke="#e0a0a0" stroke-width="1.6" stroke-linecap="butt"/>
<line x1="202.00" y1="445.30" x2="202.00" y2="450.90" stroke="#e0a0a0" stroke-width="1.2" stroke-linecap="butt"/>
<line x1="199.70" y1="448.10" x2="204.30" y2="448.10" stroke="#e0a0a0" stroke-width="1.6" stroke-linecap="butt"/>
<line x1="241.50" y1="475.30" x2="241.50" y2="480.90" stroke="#e0a0a0" stroke-width="1.2" stroke-linecap="butt"/>
<line x1="239.20" y1="478.10" x2="243.80" y2="478.10" stroke="#e0a0a0" stroke-width="1.6" stroke-linecap="butt"/>
<line x1="62.20" y1="386.40" x2="62.20" y2="392.00" stroke="#8e9cc6" stroke-width="1.2" stroke-linecap="butt"/>
<line x1="59.90" y1="389.20" x2="64.50" y2="389.20" stroke="#8e9cc6" stroke-width="1.6" stroke-linecap="butt"/>
<line x1="64.70" y1="386.40" x2="64.70" y2="392.00" stroke="#8e9cc6" stroke-width="1.2" stroke-linecap="butt"/>
<line x1="62.40" y1="389.20" x2="67.00" y2="389.20" stroke="#8e9cc6" stroke-width="1.6" stroke-linecap="butt"/>
<line x1="67.00" y1="386.40" x2="67.00" y2="392.00" stroke="#8e9cc6" stroke-width="1.2" stroke-linecap="butt"/>
<line x1="64.70" y1="389.20" x2="69.30" y2="389.20" stroke="#8e9cc6" stroke-width="1.6" stroke-linecap="butt"/>
<line x1="74.50" y1="386.40" x2="74.50" y2="392.00" stroke="#8e9cc6" stroke-width="1.2" stroke-linecap="butt"/>
<line x1="72.20" y1="389.20" x2="76.80" y2="389.20" stroke="#8e9cc6" stroke-width="1.6" stroke-linecap="butt"/>
<line x1="76.80" y1="386.40" x2="76.80" y2="392.00" stroke="#8e9cc6" stroke-width="1.2" stroke-linecap="butt"/>
<line x1="74.50" y1="389.20" x2="79.10" y2="389.20" stroke="#8e9cc6" stroke-width="1.6" stroke-linecap="butt"/>
<line x1="78.50" y1="386.40" x2="78.50" y2="392.00" stroke="#8e9cc6" stroke-width="1.2" stroke-linecap="butt"/>
<line x1="76.20" y1="389.20" x2="80.80" y2="389.20" stroke="#8e9cc6" stroke-width="1.6" stroke-linecap="butt"/>
<line x1="80.30" y1="390.50" x2="80.30" y2="396.10" stroke="#8e9cc6" stroke-width="1.2" stroke-linecap="butt"/>
<line x1="78.00" y1="393.30" x2="82.60" y2="393.30" stroke="#8e9cc6" stroke-width="1.6" stroke-linecap="butt"/>
<line x1="83.20" y1="390.50" x2="83.20" y2="396.10" stroke="#8e9cc6" stroke-width="1.2" stroke-linecap="butt"/>
<line x1="80.90" y1="393.30" x2="85.50" y2="393.30" stroke="#8e9cc6" stroke-width="1.6" stroke-linecap="butt"/>
<line x1="91.20" y1="390.50" x2="91.20" y2="396.10" stroke="#8e9cc6" stroke-width="1.2" stroke-linecap="butt"/>
<line x1="88.90" y1="393.30" x2="93.50" y2="393.30" stroke="#8e9cc6" stroke-width="1.6" stroke-linecap="butt"/>
<line x1="110.80" y1="400.20" x2="110.80" y2="405.80" stroke="#8e9cc6" stroke-width="1.2" stroke-linecap="butt"/>
<line x1="108.50" y1="403.00" x2="113.10" y2="403.00" stroke="#8e9cc6" stroke-width="1.6" stroke-linecap="butt"/>
<line x1="131.70" y1="404.70" x2="131.70" y2="410.30" stroke="#8e9cc6" stroke-width="1.2" stroke-linecap="butt"/>
<line x1="129.40" y1="407.50" x2="134.00" y2="407.50" stroke="#8e9cc6" stroke-width="1.6" stroke-linecap="butt"/>
<line x1="136.00" y1="404.70" x2="136.00" y2="410.30" stroke="#8e9cc6" stroke-width="1.2" stroke-linecap="butt"/>
<line x1="133.70" y1="407.50" x2="138.30" y2="407.50" stroke="#8e9cc6" stroke-width="1.6" stroke-linecap="butt"/>
<line x1="138.80" y1="404.70" x2="138.80" y2="410.30" stroke="#8e9cc6" stroke-width="1.2" stroke-linecap="butt"/>
<line x1="136.50" y1="407.50" x2="141.10" y2="407.50" stroke="#8e9cc6" stroke-width="1.6" stroke-linecap="butt"/>
<line x1="141.70" y1="410.60" x2="141.70" y2="416.20" stroke="#8e9cc6" stroke-width="1.2" stroke-linecap="butt"/>
<line x1="139.40" y1="413.40" x2="144.00" y2="413.40" stroke="#8e9cc6" stroke-width="1.6" stroke-linecap="butt"/>
<line x1="149.50" y1="410.60" x2="149.50" y2="416.20" stroke="#8e9cc6" stroke-width="1.2" stroke-linecap="butt"/>
<line x1="147.20" y1="413.40" x2="151.80" y2="413.40" stroke="#8e9cc6" stroke-width="1.6" stroke-linecap="butt"/>
<line x1="155.90" y1="410.60" x2="155.90" y2="416.20" stroke="#8e9cc6" stroke-width="1.2" stroke-linecap="butt"/>
<line x1="153.60" y1="413.40" x2="158.20" y2="413.40" stroke="#8e9cc6" stroke-width="1.6" stroke-linecap="butt"/>
<line x1="163.70" y1="410.60" x2="163.70" y2="416.20" stroke="#8e9cc6" stroke-width="1.2" stroke-linecap="butt"/>
<line x1="161.40" y1="413.40" x2="166.00" y2="413.40" stroke="#8e9cc6" stroke-width="1.6" stroke-linecap="butt"/>
<line x1="176.40" y1="410.60" x2="176.40" y2="416.20" stroke="#8e9cc6" stroke-width="1.2" stroke-linecap="butt"/>
<line x1="174.10" y1="413.40" x2="178.70" y2="413.40" stroke="#8e9cc6" stroke-width="1.6" stroke-linecap="butt"/>
<line x1="187.60" y1="422.20" x2="187.60" y2="427.80" stroke="#8e9cc6" stroke-width="1.2" stroke-linecap="butt"/>
<line x1="185.30" y1="425.00" x2="189.90" y2="425.00" stroke="#8e9cc6" stroke-width="1.6" stroke-linecap="butt"/>
<line x1="211.90" y1="422.20" x2="211.90" y2="427.80" stroke="#8e9cc6" stroke-width="1.2" stroke-linecap="butt"/>
<line x1="209.60" y1="425.00" x2="214.20" y2="425.00" stroke="#8e9cc6" stroke-width="1.6" stroke-linecap="butt"/>
<line x1="220.00" y1="422.20" x2="220.00" y2="427.80" stroke="#8e9cc6" stroke-width="1.2" stroke-linecap="butt"/>
<line x1="217.70" y1="425.00" x2="222.30" y2="425.00" stroke="#8e9cc6" stroke-width="1.6" stroke-linecap="butt"/>
<path d="M317.20 396.50L317.50 396.50L317.50 397.10L317.50 397.10L317.50 401.20L319.20 401.20L319.20 404.00L319.50 404.00L319.50 409.80L321.50 409.80L321.50 412.70L325.00 412.70L325.00 415.00L327.30 415.00L327.30 416.20L327.30 416.20L327.30 422.50L329.60 422.50L329.60 428.30L331.30 428.30L331.30 431.20L333.10 431.20L333.10 438.70L335.40 438.70L335.40 441.50L337.70 441.50L337.70 446.90L340.60 446.90L340.60 455.60L343.00 455.60L343.00 458.45L345.40 458.45L345.40 461.30L348.30 461.30L348.30 464.20L351.20 464.20L351.20 467.10L355.00 467.10L355.00 471.90L358.85 471.90L358.85 473.85L362.70 473.85L362.70 475.80L365.60 475.80L365.60 478.65L368.50 478.65L368.50 481.50L371.35 481.50L371.35 483.45L374.20 483.45L374.20 485.40L420.40 485.40L420.40 489.20L421.90 489.20L421.90 493.50L493.10 493.50" fill="none" stroke="#b00a2a" stroke-width="1.5" stroke-linejoin="miter"/>
<path d="M317.20 391.30L317.20 391.30L317.20 396.00L319.20 396.00L319.20 397.70L320.40 397.70L320.40 401.20L322.70 401.20L322.70 405.20L325.00 405.20L325.00 408.10L327.30 408.10L327.30 409.80L330.20 409.80L330.20 412.70L331.30 412.70L331.30 416.20L333.10 416.20L333.10 419.00L334.80 419.00L334.80 422.50L337.10 422.50L337.10 426.50L339.40 426.50L339.40 429.40L341.70 429.40L341.70 432.30L346.90 432.30L346.90 434.60L348.10 434.60L348.10 438.10L353.30 438.10L353.30 439.20L354.40 439.20L354.40 442.10L358.50 442.10L358.50 443.80L361.10 443.80L361.10 445.85L363.70 445.85L363.70 447.90L366.50 447.90L366.50 453.70L368.90 453.70L368.90 455.60L371.30 455.60L371.30 457.50L374.20 457.50L374.20 459.90L377.10 459.90L377.10 462.30L403.50 462.30L403.50 471.90L454.60 471.90" fill="none" stroke="#2f4f8a" stroke-width="1.5" stroke-linejoin="miter"/>
<line x1="315.80" y1="399.50" x2="315.80" y2="405.10" stroke="#e0a0a0" stroke-width="1.2" stroke-linecap="butt"/>
<line x1="313.50" y1="402.30" x2="318.10" y2="402.30" stroke="#e0a0a0" stroke-width="1.6" stroke-linecap="butt"/>
<line x1="316.90" y1="399.50" x2="316.90" y2="405.10" stroke="#e0a0a0" stroke-width="1.2" stroke-linecap="butt"/>
<line x1="314.60" y1="402.30" x2="319.20" y2="402.30" stroke="#e0a0a0" stroke-width="1.6" stroke-linecap="butt"/>
<line x1="319.20" y1="408.20" x2="319.20" y2="413.80" stroke="#e0a0a0" stroke-width="1.2" stroke-linecap="butt"/>
<line x1="316.90" y1="411.00" x2="321.50" y2="411.00" stroke="#e0a0a0" stroke-width="1.6" stroke-linecap="butt"/>
<line x1="321.00" y1="409.90" x2="321.00" y2="415.50" stroke="#e0a0a0" stroke-width="1.2" stroke-linecap="butt"/>
<line x1="318.70" y1="412.70" x2="323.30" y2="412.70" stroke="#e0a0a0" stroke-width="1.6" stroke-linecap="butt"/>
<line x1="322.10" y1="410.50" x2="322.10" y2="416.10" stroke="#e0a0a0" stroke-width="1.2" stroke-linecap="butt"/>
<line x1="319.80" y1="413.30" x2="324.40" y2="413.30" stroke="#e0a0a0" stroke-width="1.6" stroke-linecap="butt"/>
<line x1="325.60" y1="420.30" x2="325.60" y2="425.90" stroke="#e0a0a0" stroke-width="1.2" stroke-linecap="butt"/>
<line x1="323.30" y1="423.10" x2="327.90" y2="423.10" stroke="#e0a0a0" stroke-width="1.6" stroke-linecap="butt"/>
<line x1="333.70" y1="438.20" x2="333.70" y2="443.80" stroke="#e0a0a0" stroke-width="1.2" stroke-linecap="butt"/>
<line x1="331.40" y1="441.00" x2="336.00" y2="441.00" stroke="#e0a0a0" stroke-width="1.6" stroke-linecap="butt"/>
<line x1="336.50" y1="439.30" x2="336.50" y2="444.90" stroke="#e0a0a0" stroke-width="1.2" stroke-linecap="butt"/>
<line x1="334.20" y1="442.10" x2="338.80" y2="442.10" stroke="#e0a0a0" stroke-width="1.6" stroke-linecap="butt"/>
<line x1="338.50" y1="444.20" x2="338.50" y2="449.80" stroke="#e0a0a0" stroke-width="1.2" stroke-linecap="butt"/>
<line x1="336.20" y1="447.00" x2="340.80" y2="447.00" stroke="#e0a0a0" stroke-width="1.6" stroke-linecap="butt"/>
<line x1="345.00" y1="458.50" x2="345.00" y2="464.10" stroke="#e0a0a0" stroke-width="1.2" stroke-linecap="butt"/>
<line x1="342.70" y1="461.30" x2="347.30" y2="461.30" stroke="#e0a0a0" stroke-width="1.6" stroke-linecap="butt"/>
<line x1="350.00" y1="464.30" x2="350.00" y2="469.90" stroke="#e0a0a0" stroke-width="1.2" stroke-linecap="butt"/>
<line x1="347.70" y1="467.10" x2="352.30" y2="467.10" stroke="#e0a0a0" stroke-width="1.6" stroke-linecap="butt"/>
<line x1="358.00" y1="469.10" x2="358.00" y2="474.70" stroke="#e0a0a0" stroke-width="1.2" stroke-linecap="butt"/>
<line x1="355.70" y1="471.90" x2="360.30" y2="471.90" stroke="#e0a0a0" stroke-width="1.6" stroke-linecap="butt"/>
<line x1="380.40" y1="482.60" x2="380.40" y2="488.20" stroke="#e0a0a0" stroke-width="1.2" stroke-linecap="butt"/>
<line x1="378.10" y1="485.40" x2="382.70" y2="485.40" stroke="#e0a0a0" stroke-width="1.6" stroke-linecap="butt"/>
<line x1="385.80" y1="482.60" x2="385.80" y2="488.20" stroke="#e0a0a0" stroke-width="1.2" stroke-linecap="butt"/>
<line x1="383.50" y1="485.40" x2="388.10" y2="485.40" stroke="#e0a0a0" stroke-width="1.6" stroke-linecap="butt"/>
<line x1="389.60" y1="482.60" x2="389.60" y2="488.20" stroke="#e0a0a0" stroke-width="1.2" stroke-linecap="butt"/>
<line x1="387.30" y1="485.40" x2="391.90" y2="485.40" stroke="#e0a0a0" stroke-width="1.6" stroke-linecap="butt"/>
<line x1="391.20" y1="482.60" x2="391.20" y2="488.20" stroke="#e0a0a0" stroke-width="1.2" stroke-linecap="butt"/>
<line x1="388.90" y1="485.40" x2="393.50" y2="485.40" stroke="#e0a0a0" stroke-width="1.6" stroke-linecap="butt"/>
<line x1="411.70" y1="482.60" x2="411.70" y2="488.20" stroke="#e0a0a0" stroke-width="1.2" stroke-linecap="butt"/>
<line x1="409.40" y1="485.40" x2="414.00" y2="485.40" stroke="#e0a0a0" stroke-width="1.6" stroke-linecap="butt"/>
<line x1="419.40" y1="486.40" x2="419.40" y2="492.00" stroke="#e0a0a0" stroke-width="1.2" stroke-linecap="butt"/>
<line x1="417.10" y1="489.20" x2="421.70" y2="489.20" stroke="#e0a0a0" stroke-width="1.6" stroke-linecap="butt"/>
<line x1="457.50" y1="490.70" x2="457.50" y2="496.30" stroke="#e0a0a0" stroke-width="1.2" stroke-linecap="butt"/>
<line x1="455.20" y1="493.50" x2="459.80" y2="493.50" stroke="#e0a0a0" stroke-width="1.6" stroke-linecap="butt"/>
<line x1="470.40" y1="490.70" x2="470.40" y2="496.30" stroke="#e0a0a0" stroke-width="1.2" stroke-linecap="butt"/>
<line x1="468.10" y1="493.50" x2="472.70" y2="493.50" stroke="#e0a0a0" stroke-width="1.6" stroke-linecap="butt"/>
<line x1="493.10" y1="490.70" x2="493.10" y2="496.30" stroke="#e0a0a0" stroke-width="1.2" stroke-linecap="butt"/>
<line x1="490.80" y1="493.50" x2="495.40" y2="493.50" stroke="#e0a0a0" stroke-width="1.6" stroke-linecap="butt"/>
<line x1="319.80" y1="398.40" x2="319.80" y2="404.00" stroke="#8e9cc6" stroke-width="1.2" stroke-linecap="butt"/>
<line x1="317.50" y1="401.20" x2="322.10" y2="401.20" stroke="#8e9cc6" stroke-width="1.6" stroke-linecap="butt"/>
<line x1="321.50" y1="400.10" x2="321.50" y2="405.70" stroke="#8e9cc6" stroke-width="1.2" stroke-linecap="butt"/>
<line x1="319.20" y1="402.90" x2="323.80" y2="402.90" stroke="#8e9cc6" stroke-width="1.6" stroke-linecap="butt"/>
<line x1="327.30" y1="405.90" x2="327.30" y2="411.50" stroke="#8e9cc6" stroke-width="1.2" stroke-linecap="butt"/>
<line x1="325.00" y1="408.70" x2="329.60" y2="408.70" stroke="#8e9cc6" stroke-width="1.6" stroke-linecap="butt"/>
<line x1="329.00" y1="407.00" x2="329.00" y2="412.60" stroke="#8e9cc6" stroke-width="1.2" stroke-linecap="butt"/>
<line x1="326.70" y1="409.80" x2="331.30" y2="409.80" stroke="#8e9cc6" stroke-width="1.6" stroke-linecap="butt"/>
<line x1="330.20" y1="409.30" x2="330.20" y2="414.90" stroke="#8e9cc6" stroke-width="1.2" stroke-linecap="butt"/>
<line x1="327.90" y1="412.10" x2="332.50" y2="412.10" stroke="#8e9cc6" stroke-width="1.6" stroke-linecap="butt"/>
<line x1="331.90" y1="412.40" x2="331.90" y2="418.00" stroke="#8e9cc6" stroke-width="1.2" stroke-linecap="butt"/>
<line x1="329.60" y1="415.20" x2="334.20" y2="415.20" stroke="#8e9cc6" stroke-width="1.6" stroke-linecap="butt"/>
<line x1="336.00" y1="425.50" x2="336.00" y2="431.10" stroke="#8e9cc6" stroke-width="1.2" stroke-linecap="butt"/>
<line x1="333.70" y1="428.30" x2="338.30" y2="428.30" stroke="#8e9cc6" stroke-width="1.6" stroke-linecap="butt"/>
<line x1="342.30" y1="430.10" x2="342.30" y2="435.70" stroke="#8e9cc6" stroke-width="1.2" stroke-linecap="butt"/>
<line x1="340.00" y1="432.90" x2="344.60" y2="432.90" stroke="#8e9cc6" stroke-width="1.6" stroke-linecap="butt"/>
<line x1="344.00" y1="430.70" x2="344.00" y2="436.30" stroke="#8e9cc6" stroke-width="1.2" stroke-linecap="butt"/>
<line x1="341.70" y1="433.50" x2="346.30" y2="433.50" stroke="#8e9cc6" stroke-width="1.6" stroke-linecap="butt"/>
<line x1="345.20" y1="430.10" x2="345.20" y2="435.70" stroke="#8e9cc6" stroke-width="1.2" stroke-linecap="butt"/>
<line x1="342.90" y1="432.90" x2="347.50" y2="432.90" stroke="#8e9cc6" stroke-width="1.6" stroke-linecap="butt"/>
<line x1="351.00" y1="440.20" x2="351.00" y2="445.80" stroke="#8e9cc6" stroke-width="1.2" stroke-linecap="butt"/>
<line x1="348.70" y1="443.00" x2="353.30" y2="443.00" stroke="#8e9cc6" stroke-width="1.6" stroke-linecap="butt"/>
<line x1="353.00" y1="441.20" x2="353.00" y2="446.80" stroke="#8e9cc6" stroke-width="1.2" stroke-linecap="butt"/>
<line x1="350.70" y1="444.00" x2="355.30" y2="444.00" stroke="#8e9cc6" stroke-width="1.6" stroke-linecap="butt"/>
<line x1="366.00" y1="450.90" x2="366.00" y2="456.50" stroke="#8e9cc6" stroke-width="1.2" stroke-linecap="butt"/>
<line x1="363.70" y1="453.70" x2="368.30" y2="453.70" stroke="#8e9cc6" stroke-width="1.6" stroke-linecap="butt"/>
<line x1="368.00" y1="453.20" x2="368.00" y2="458.80" stroke="#8e9cc6" stroke-width="1.2" stroke-linecap="butt"/>
<line x1="365.70" y1="456.00" x2="370.30" y2="456.00" stroke="#8e9cc6" stroke-width="1.6" stroke-linecap="butt"/>
<line x1="389.00" y1="459.50" x2="389.00" y2="465.10" stroke="#8e9cc6" stroke-width="1.2" stroke-linecap="butt"/>
<line x1="386.70" y1="462.30" x2="391.30" y2="462.30" stroke="#8e9cc6" stroke-width="1.6" stroke-linecap="butt"/>
<line x1="392.00" y1="459.50" x2="392.00" y2="465.10" stroke="#8e9cc6" stroke-width="1.2" stroke-linecap="butt"/>
<line x1="389.70" y1="462.30" x2="394.30" y2="462.30" stroke="#8e9cc6" stroke-width="1.6" stroke-linecap="butt"/>
<line x1="394.00" y1="459.50" x2="394.00" y2="465.10" stroke="#8e9cc6" stroke-width="1.2" stroke-linecap="butt"/>
<line x1="391.70" y1="462.30" x2="396.30" y2="462.30" stroke="#8e9cc6" stroke-width="1.6" stroke-linecap="butt"/>
<line x1="396.00" y1="459.50" x2="396.00" y2="465.10" stroke="#8e9cc6" stroke-width="1.2" stroke-linecap="butt"/>
<line x1="393.70" y1="462.30" x2="398.30" y2="462.30" stroke="#8e9cc6" stroke-width="1.6" stroke-linecap="butt"/>
<line x1="408.80" y1="469.10" x2="408.80" y2="474.70" stroke="#8e9cc6" stroke-width="1.2" stroke-linecap="butt"/>
<line x1="406.50" y1="471.90" x2="411.10" y2="471.90" stroke="#8e9cc6" stroke-width="1.6" stroke-linecap="butt"/>
<line x1="414.60" y1="469.10" x2="414.60" y2="474.70" stroke="#8e9cc6" stroke-width="1.2" stroke-linecap="butt"/>
<line x1="412.30" y1="471.90" x2="416.90" y2="471.90" stroke="#8e9cc6" stroke-width="1.6" stroke-linecap="butt"/>
<line x1="423.80" y1="469.10" x2="423.80" y2="474.70" stroke="#8e9cc6" stroke-width="1.2" stroke-linecap="butt"/>
<line x1="421.50" y1="471.90" x2="426.10" y2="471.90" stroke="#8e9cc6" stroke-width="1.6" stroke-linecap="butt"/>
<line x1="428.70" y1="469.10" x2="428.70" y2="474.70" stroke="#8e9cc6" stroke-width="1.2" stroke-linecap="butt"/>
<line x1="426.40" y1="471.90" x2="431.00" y2="471.90" stroke="#8e9cc6" stroke-width="1.6" stroke-linecap="butt"/>
<line x1="429.60" y1="469.10" x2="429.60" y2="474.70" stroke="#8e9cc6" stroke-width="1.2" stroke-linecap="butt"/>
<line x1="427.30" y1="471.90" x2="431.90" y2="471.90" stroke="#8e9cc6" stroke-width="1.6" stroke-linecap="butt"/>
<line x1="433.50" y1="469.10" x2="433.50" y2="474.70" stroke="#8e9cc6" stroke-width="1.2" stroke-linecap="butt"/>
<line x1="431.20" y1="471.90" x2="435.80" y2="471.90" stroke="#8e9cc6" stroke-width="1.6" stroke-linecap="butt"/>
<line x1="446.90" y1="469.10" x2="446.90" y2="474.70" stroke="#8e9cc6" stroke-width="1.2" stroke-linecap="butt"/>
<line x1="444.60" y1="471.90" x2="449.20" y2="471.90" stroke="#8e9cc6" stroke-width="1.6" stroke-linecap="butt"/>
<line x1="454.20" y1="469.10" x2="454.20" y2="474.70" stroke="#8e9cc6" stroke-width="1.2" stroke-linecap="butt"/>
<line x1="451.90" y1="471.90" x2="456.50" y2="471.90" stroke="#8e9cc6" stroke-width="1.6" stroke-linecap="butt"/>
<path d="M58.80 564.60L73.10 564.60L73.10 568.80L86.90 568.80L86.90 572.30L90.40 572.30L90.40 579.00L92.70 579.00L92.70 584.80L99.00 584.80L99.00 589.60L113.50 589.60L113.50 595.00L128.50 595.00L128.50 600.20L131.70 600.20L131.70 605.40L134.60 605.40L134.60 610.80L139.40 610.80L139.40 616.20L156.60 616.20L156.60 625.00L176.20 625.00L176.20 637.00L206.90 637.00L206.90 659.60L241.50 659.60" fill="none" stroke="#b00a2a" stroke-width="1.5" stroke-linejoin="miter"/>
<path d="M58.80 564.60L73.10 564.60L73.10 566.90L76.90 566.90L76.90 569.40L78.50 569.40L78.50 572.30L91.30 572.30L91.30 577.10L108.70 577.10L108.70 581.50L127.50 581.50L127.50 586.70L135.60 586.70L135.60 592.20L220.40 592.20" fill="none" stroke="#2f4f8a" stroke-width="1.5" stroke-linejoin="miter"/>
<line x1="60.70" y1="561.80" x2="60.70" y2="567.40" stroke="#e0a0a0" stroke-width="1.2" stroke-linecap="butt"/>
<line x1="58.40" y1="564.60" x2="63.00" y2="564.60" stroke="#e0a0a0" stroke-width="1.6" stroke-linecap="butt"/>
<line x1="65.80" y1="561.80" x2="65.80" y2="567.40" stroke="#e0a0a0" stroke-width="1.2" stroke-linecap="butt"/>
<line x1="63.50" y1="564.60" x2="68.10" y2="564.60" stroke="#e0a0a0" stroke-width="1.6" stroke-linecap="butt"/>
<line x1="73.90" y1="565.80" x2="73.90" y2="571.40" stroke="#e0a0a0" stroke-width="1.2" stroke-linecap="butt"/>
<line x1="71.60" y1="568.60" x2="76.20" y2="568.60" stroke="#e0a0a0" stroke-width="1.6" stroke-linecap="butt"/>
<line x1="90.10" y1="569.50" x2="90.10" y2="575.10" stroke="#e0a0a0" stroke-width="1.2" stroke-linecap="butt"/>
<line x1="87.80" y1="572.30" x2="92.40" y2="572.30" stroke="#e0a0a0" stroke-width="1.6" stroke-linecap="butt"/>
<line x1="93.00" y1="582.00" x2="93.00" y2="587.60" stroke="#e0a0a0" stroke-width="1.2" stroke-linecap="butt"/>
<line x1="90.70" y1="584.80" x2="95.30" y2="584.80" stroke="#e0a0a0" stroke-width="1.6" stroke-linecap="butt"/>
<line x1="98.20" y1="582.00" x2="98.20" y2="587.60" stroke="#e0a0a0" stroke-width="1.2" stroke-linecap="butt"/>
<line x1="95.90" y1="584.80" x2="100.50" y2="584.80" stroke="#e0a0a0" stroke-width="1.6" stroke-linecap="butt"/>
<line x1="109.70" y1="586.80" x2="109.70" y2="592.40" stroke="#e0a0a0" stroke-width="1.2" stroke-linecap="butt"/>
<line x1="107.40" y1="589.60" x2="112.00" y2="589.60" stroke="#e0a0a0" stroke-width="1.6" stroke-linecap="butt"/>
<line x1="128.80" y1="593.20" x2="128.80" y2="598.80" stroke="#e0a0a0" stroke-width="1.2" stroke-linecap="butt"/>
<line x1="126.50" y1="596.00" x2="131.10" y2="596.00" stroke="#e0a0a0" stroke-width="1.6" stroke-linecap="butt"/>
<line x1="139.40" y1="608.00" x2="139.40" y2="613.60" stroke="#e0a0a0" stroke-width="1.2" stroke-linecap="butt"/>
<line x1="137.10" y1="610.80" x2="141.70" y2="610.80" stroke="#e0a0a0" stroke-width="1.6" stroke-linecap="butt"/>
<line x1="141.70" y1="613.40" x2="141.70" y2="619.00" stroke="#e0a0a0" stroke-width="1.2" stroke-linecap="butt"/>
<line x1="139.40" y1="616.20" x2="144.00" y2="616.20" stroke="#e0a0a0" stroke-width="1.6" stroke-linecap="butt"/>
<line x1="144.70" y1="613.40" x2="144.70" y2="619.00" stroke="#e0a0a0" stroke-width="1.2" stroke-linecap="butt"/>
<line x1="142.40" y1="616.20" x2="147.00" y2="616.20" stroke="#e0a0a0" stroke-width="1.6" stroke-linecap="butt"/>
<line x1="148.00" y1="613.40" x2="148.00" y2="619.00" stroke="#e0a0a0" stroke-width="1.2" stroke-linecap="butt"/>
<line x1="145.70" y1="616.20" x2="150.30" y2="616.20" stroke="#e0a0a0" stroke-width="1.6" stroke-linecap="butt"/>
<line x1="174.60" y1="622.20" x2="174.60" y2="627.80" stroke="#e0a0a0" stroke-width="1.2" stroke-linecap="butt"/>
<line x1="172.30" y1="625.00" x2="176.90" y2="625.00" stroke="#e0a0a0" stroke-width="1.6" stroke-linecap="butt"/>
<line x1="185.50" y1="634.20" x2="185.50" y2="639.80" stroke="#e0a0a0" stroke-width="1.2" stroke-linecap="butt"/>
<line x1="183.20" y1="637.00" x2="187.80" y2="637.00" stroke="#e0a0a0" stroke-width="1.6" stroke-linecap="butt"/>
<line x1="190.80" y1="634.20" x2="190.80" y2="639.80" stroke="#e0a0a0" stroke-width="1.2" stroke-linecap="butt"/>
<line x1="188.50" y1="637.00" x2="193.10" y2="637.00" stroke="#e0a0a0" stroke-width="1.6" stroke-linecap="butt"/>
<line x1="241.50" y1="656.80" x2="241.50" y2="662.40" stroke="#e0a0a0" stroke-width="1.2" stroke-linecap="butt"/>
<line x1="239.20" y1="659.60" x2="243.80" y2="659.60" stroke="#e0a0a0" stroke-width="1.6" stroke-linecap="butt"/>
<line x1="62.20" y1="561.80" x2="62.20" y2="567.40" stroke="#8e9cc6" stroke-width="1.2" stroke-linecap="butt"/>
<line x1="59.90" y1="564.60" x2="64.50" y2="564.60" stroke="#8e9cc6" stroke-width="1.6" stroke-linecap="butt"/>
<line x1="63.90" y1="561.80" x2="63.90" y2="567.40" stroke="#8e9cc6" stroke-width="1.2" stroke-linecap="butt"/>
<line x1="61.60" y1="564.60" x2="66.20" y2="564.60" stroke="#8e9cc6" stroke-width="1.6" stroke-linecap="butt"/>
<line x1="72.20" y1="561.80" x2="72.20" y2="567.40" stroke="#8e9cc6" stroke-width="1.2" stroke-linecap="butt"/>
<line x1="69.90" y1="564.60" x2="74.50" y2="564.60" stroke="#8e9cc6" stroke-width="1.6" stroke-linecap="butt"/>
<line x1="76.20" y1="564.90" x2="76.20" y2="570.50" stroke="#8e9cc6" stroke-width="1.2" stroke-linecap="butt"/>
<line x1="73.90" y1="567.70" x2="78.50" y2="567.70" stroke="#8e9cc6" stroke-width="1.6" stroke-linecap="butt"/>
<line x1="80.30" y1="569.50" x2="80.30" y2="575.10" stroke="#8e9cc6" stroke-width="1.2" stroke-linecap="butt"/>
<line x1="78.00" y1="572.30" x2="82.60" y2="572.30" stroke="#8e9cc6" stroke-width="1.6" stroke-linecap="butt"/>
<line x1="82.60" y1="569.50" x2="82.60" y2="575.10" stroke="#8e9cc6" stroke-width="1.2" stroke-linecap="butt"/>
<line x1="80.30" y1="572.30" x2="84.90" y2="572.30" stroke="#8e9cc6" stroke-width="1.6" stroke-linecap="butt"/>
<line x1="89.50" y1="573.50" x2="89.50" y2="579.10" stroke="#8e9cc6" stroke-width="1.2" stroke-linecap="butt"/>
<line x1="87.20" y1="576.30" x2="91.80" y2="576.30" stroke="#8e9cc6" stroke-width="1.6" stroke-linecap="butt"/>
<line x1="130.80" y1="583.90" x2="130.80" y2="589.50" stroke="#8e9cc6" stroke-width="1.2" stroke-linecap="butt"/>
<line x1="128.50" y1="586.70" x2="133.10" y2="586.70" stroke="#8e9cc6" stroke-width="1.6" stroke-linecap="butt"/>
<line x1="134.00" y1="583.90" x2="134.00" y2="589.50" stroke="#8e9cc6" stroke-width="1.2" stroke-linecap="butt"/>
<line x1="131.70" y1="586.70" x2="136.30" y2="586.70" stroke="#8e9cc6" stroke-width="1.6" stroke-linecap="butt"/>
<line x1="137.20" y1="583.90" x2="137.20" y2="589.50" stroke="#8e9cc6" stroke-width="1.2" stroke-linecap="butt"/>
<line x1="134.90" y1="586.70" x2="139.50" y2="586.70" stroke="#8e9cc6" stroke-width="1.6" stroke-linecap="butt"/>
<line x1="149.00" y1="589.40" x2="149.00" y2="595.00" stroke="#8e9cc6" stroke-width="1.2" stroke-linecap="butt"/>
<line x1="146.70" y1="592.20" x2="151.30" y2="592.20" stroke="#8e9cc6" stroke-width="1.6" stroke-linecap="butt"/>
<line x1="151.00" y1="589.40" x2="151.00" y2="595.00" stroke="#8e9cc6" stroke-width="1.2" stroke-linecap="butt"/>
<line x1="148.70" y1="592.20" x2="153.30" y2="592.20" stroke="#8e9cc6" stroke-width="1.6" stroke-linecap="butt"/>
<line x1="154.80" y1="589.40" x2="154.80" y2="595.00" stroke="#8e9cc6" stroke-width="1.2" stroke-linecap="butt"/>
<line x1="152.50" y1="592.20" x2="157.10" y2="592.20" stroke="#8e9cc6" stroke-width="1.6" stroke-linecap="butt"/>
<line x1="158.60" y1="589.40" x2="158.60" y2="595.00" stroke="#8e9cc6" stroke-width="1.2" stroke-linecap="butt"/>
<line x1="156.30" y1="592.20" x2="160.90" y2="592.20" stroke="#8e9cc6" stroke-width="1.6" stroke-linecap="butt"/>
<line x1="162.80" y1="589.40" x2="162.80" y2="595.00" stroke="#8e9cc6" stroke-width="1.2" stroke-linecap="butt"/>
<line x1="160.50" y1="592.20" x2="165.10" y2="592.20" stroke="#8e9cc6" stroke-width="1.6" stroke-linecap="butt"/>
<line x1="170.70" y1="589.40" x2="170.70" y2="595.00" stroke="#8e9cc6" stroke-width="1.2" stroke-linecap="butt"/>
<line x1="168.40" y1="592.20" x2="173.00" y2="592.20" stroke="#8e9cc6" stroke-width="1.6" stroke-linecap="butt"/>
<line x1="177.00" y1="589.40" x2="177.00" y2="595.00" stroke="#8e9cc6" stroke-width="1.2" stroke-linecap="butt"/>
<line x1="174.70" y1="592.20" x2="179.30" y2="592.20" stroke="#8e9cc6" stroke-width="1.6" stroke-linecap="butt"/>
<line x1="179.10" y1="589.40" x2="179.10" y2="595.00" stroke="#8e9cc6" stroke-width="1.2" stroke-linecap="butt"/>
<line x1="176.80" y1="592.20" x2="181.40" y2="592.20" stroke="#8e9cc6" stroke-width="1.6" stroke-linecap="butt"/>
<line x1="182.30" y1="589.40" x2="182.30" y2="595.00" stroke="#8e9cc6" stroke-width="1.2" stroke-linecap="butt"/>
<line x1="180.00" y1="592.20" x2="184.60" y2="592.20" stroke="#8e9cc6" stroke-width="1.6" stroke-linecap="butt"/>
<line x1="185.50" y1="589.40" x2="185.50" y2="595.00" stroke="#8e9cc6" stroke-width="1.2" stroke-linecap="butt"/>
<line x1="183.20" y1="592.20" x2="187.80" y2="592.20" stroke="#8e9cc6" stroke-width="1.6" stroke-linecap="butt"/>
<line x1="188.20" y1="589.40" x2="188.20" y2="595.00" stroke="#8e9cc6" stroke-width="1.2" stroke-linecap="butt"/>
<line x1="185.90" y1="592.20" x2="190.50" y2="592.20" stroke="#8e9cc6" stroke-width="1.6" stroke-linecap="butt"/>
<line x1="190.30" y1="589.40" x2="190.30" y2="595.00" stroke="#8e9cc6" stroke-width="1.2" stroke-linecap="butt"/>
<line x1="188.00" y1="592.20" x2="192.60" y2="592.20" stroke="#8e9cc6" stroke-width="1.6" stroke-linecap="butt"/>
<line x1="202.40" y1="589.40" x2="202.40" y2="595.00" stroke="#8e9cc6" stroke-width="1.2" stroke-linecap="butt"/>
<line x1="200.10" y1="592.20" x2="204.70" y2="592.20" stroke="#8e9cc6" stroke-width="1.6" stroke-linecap="butt"/>
<line x1="211.90" y1="589.40" x2="211.90" y2="595.00" stroke="#8e9cc6" stroke-width="1.2" stroke-linecap="butt"/>
<line x1="209.60" y1="592.20" x2="214.20" y2="592.20" stroke="#8e9cc6" stroke-width="1.6" stroke-linecap="butt"/>
<line x1="220.00" y1="589.40" x2="220.00" y2="595.00" stroke="#8e9cc6" stroke-width="1.2" stroke-linecap="butt"/>
<line x1="217.70" y1="592.20" x2="222.30" y2="592.20" stroke="#8e9cc6" stroke-width="1.6" stroke-linecap="butt"/>
<path d="M318.70 571.50L319.20 571.50L319.20 583.10L321.00 583.10L321.00 586.00L323.30 586.00L323.30 588.30L325.00 588.30L325.00 591.20L326.20 591.20L326.20 594.00L327.30 594.00L327.30 596.90L329.00 596.90L329.00 599.80L330.80 599.80L330.80 603.30L331.30 603.30L331.30 608.50L332.50 608.50L332.50 610.80L334.20 610.80L334.20 613.70L336.00 613.70L336.00 616.50L337.70 616.50L337.70 624.00L339.60 624.00L339.60 629.80L345.40 629.80L345.40 632.70L348.30 632.70L348.30 637.50L352.10 637.50L352.10 643.30L355.00 643.30L355.00 647.10L358.35 647.10L358.35 649.05L361.70 649.05L361.70 651.00L364.10 651.00L364.10 652.90L366.50 652.90L366.50 654.80L370.40 654.80L370.40 657.30L376.20 657.30L376.20 659.20L402.80 659.20L402.80 663.40L404.60 663.40L404.60 666.90L469.20 666.90" fill="none" stroke="#b00a2a" stroke-width="1.5" stroke-linejoin="miter"/>
<path d="M317.20 568.10L317.20 568.10L317.20 576.20L318.30 576.20L318.30 577.90L319.20 577.90L319.20 581.30L321.50 581.30L321.50 582.50L325.00 582.50L325.00 583.70L327.30 583.70L327.30 586.00L328.50 586.00L328.50 590.60L330.20 590.60L330.20 592.30L332.50 592.30L332.50 594.60L333.70 594.60L333.70 598.10L336.00 598.10L336.00 602.10L337.10 602.10L337.10 605.60L339.40 605.60L339.40 607.90L341.70 607.90L341.70 610.80L344.60 610.80L344.60 613.10L347.50 613.10L347.50 615.40L350.10 615.40L350.10 617.10L352.70 617.10L352.70 618.80L365.60 618.80L365.60 628.80L367.50 628.80L367.50 634.60L373.30 634.60L373.30 637.50L377.10 637.50L377.10 639.40L402.80 639.40L402.80 642.40L417.30 642.40L417.30 646.00L419.60 646.00L419.60 648.40L421.90 648.40L421.90 651.20L492.30 651.20" fill="none" stroke="#2f4f8a" stroke-width="1.5" stroke-linejoin="miter"/>
<line x1="319.20" y1="574.50" x2="319.20" y2="580.10" stroke="#e0a0a0" stroke-width="1.2" stroke-linecap="butt"/>
<line x1="316.90" y1="577.30" x2="321.50" y2="577.30" stroke="#e0a0a0" stroke-width="1.6" stroke-linecap="butt"/>
<line x1="320.40" y1="584.30" x2="320.40" y2="589.90" stroke="#e0a0a0" stroke-width="1.2" stroke-linecap="butt"/>
<line x1="318.10" y1="587.10" x2="322.70" y2="587.10" stroke="#e0a0a0" stroke-width="1.6" stroke-linecap="butt"/>
<line x1="325.60" y1="594.10" x2="325.60" y2="599.70" stroke="#e0a0a0" stroke-width="1.2" stroke-linecap="butt"/>
<line x1="323.30" y1="596.90" x2="327.90" y2="596.90" stroke="#e0a0a0" stroke-width="1.6" stroke-linecap="butt"/>
<line x1="327.30" y1="596.40" x2="327.30" y2="602.00" stroke="#e0a0a0" stroke-width="1.2" stroke-linecap="butt"/>
<line x1="325.00" y1="599.20" x2="329.60" y2="599.20" stroke="#e0a0a0" stroke-width="1.6" stroke-linecap="butt"/>
<line x1="331.30" y1="610.30" x2="331.30" y2="615.90" stroke="#e0a0a0" stroke-width="1.2" stroke-linecap="butt"/>
<line x1="329.00" y1="613.10" x2="333.60" y2="613.10" stroke="#e0a0a0" stroke-width="1.6" stroke-linecap="butt"/>
<line x1="333.70" y1="612.00" x2="333.70" y2="617.60" stroke="#e0a0a0" stroke-width="1.2" stroke-linecap="butt"/>
<line x1="331.40" y1="614.80" x2="336.00" y2="614.80" stroke="#e0a0a0" stroke-width="1.6" stroke-linecap="butt"/>
<line x1="339.70" y1="627.00" x2="339.70" y2="632.60" stroke="#e0a0a0" stroke-width="1.2" stroke-linecap="butt"/>
<line x1="337.40" y1="629.80" x2="342.00" y2="629.80" stroke="#e0a0a0" stroke-width="1.6" stroke-linecap="butt"/>
<line x1="342.00" y1="628.70" x2="342.00" y2="634.30" stroke="#e0a0a0" stroke-width="1.2" stroke-linecap="butt"/>
<line x1="339.70" y1="631.50" x2="344.30" y2="631.50" stroke="#e0a0a0" stroke-width="1.6" stroke-linecap="butt"/>
<line x1="357.00" y1="646.20" x2="357.00" y2="651.80" stroke="#e0a0a0" stroke-width="1.2" stroke-linecap="butt"/>
<line x1="354.70" y1="649.00" x2="359.30" y2="649.00" stroke="#e0a0a0" stroke-width="1.6" stroke-linecap="butt"/>
<line x1="359.00" y1="647.20" x2="359.00" y2="652.80" stroke="#e0a0a0" stroke-width="1.2" stroke-linecap="butt"/>
<line x1="356.70" y1="650.00" x2="361.30" y2="650.00" stroke="#e0a0a0" stroke-width="1.6" stroke-linecap="butt"/>
<line x1="370.00" y1="654.50" x2="370.00" y2="660.10" stroke="#e0a0a0" stroke-width="1.2" stroke-linecap="butt"/>
<line x1="367.70" y1="657.30" x2="372.30" y2="657.30" stroke="#e0a0a0" stroke-width="1.6" stroke-linecap="butt"/>
<line x1="380.00" y1="656.40" x2="380.00" y2="662.00" stroke="#e0a0a0" stroke-width="1.2" stroke-linecap="butt"/>
<line x1="377.70" y1="659.20" x2="382.30" y2="659.20" stroke="#e0a0a0" stroke-width="1.6" stroke-linecap="butt"/>
<line x1="391.00" y1="656.40" x2="391.00" y2="662.00" stroke="#e0a0a0" stroke-width="1.2" stroke-linecap="butt"/>
<line x1="388.70" y1="659.20" x2="393.30" y2="659.20" stroke="#e0a0a0" stroke-width="1.6" stroke-linecap="butt"/>
<line x1="392.50" y1="656.40" x2="392.50" y2="662.00" stroke="#e0a0a0" stroke-width="1.2" stroke-linecap="butt"/>
<line x1="390.20" y1="659.20" x2="394.80" y2="659.20" stroke="#e0a0a0" stroke-width="1.6" stroke-linecap="butt"/>
<line x1="393.70" y1="656.40" x2="393.70" y2="662.00" stroke="#e0a0a0" stroke-width="1.2" stroke-linecap="butt"/>
<line x1="391.40" y1="659.20" x2="396.00" y2="659.20" stroke="#e0a0a0" stroke-width="1.6" stroke-linecap="butt"/>
<line x1="404.00" y1="660.60" x2="404.00" y2="666.20" stroke="#e0a0a0" stroke-width="1.2" stroke-linecap="butt"/>
<line x1="401.70" y1="663.40" x2="406.30" y2="663.40" stroke="#e0a0a0" stroke-width="1.6" stroke-linecap="butt"/>
<line x1="413.40" y1="664.10" x2="413.40" y2="669.70" stroke="#e0a0a0" stroke-width="1.2" stroke-linecap="butt"/>
<line x1="411.10" y1="666.90" x2="415.70" y2="666.90" stroke="#e0a0a0" stroke-width="1.6" stroke-linecap="butt"/>
<line x1="428.20" y1="664.10" x2="428.20" y2="669.70" stroke="#e0a0a0" stroke-width="1.2" stroke-linecap="butt"/>
<line x1="425.90" y1="666.90" x2="430.50" y2="666.90" stroke="#e0a0a0" stroke-width="1.6" stroke-linecap="butt"/>
<line x1="452.60" y1="664.10" x2="452.60" y2="669.70" stroke="#e0a0a0" stroke-width="1.2" stroke-linecap="butt"/>
<line x1="450.30" y1="666.90" x2="454.90" y2="666.90" stroke="#e0a0a0" stroke-width="1.6" stroke-linecap="butt"/>
<line x1="469.20" y1="664.10" x2="469.20" y2="669.70" stroke="#e0a0a0" stroke-width="1.2" stroke-linecap="butt"/>
<line x1="466.90" y1="666.90" x2="471.50" y2="666.90" stroke="#e0a0a0" stroke-width="1.6" stroke-linecap="butt"/>
<line x1="315.20" y1="573.40" x2="315.20" y2="579.00" stroke="#8e9cc6" stroke-width="1.2" stroke-linecap="butt"/>
<line x1="312.90" y1="576.20" x2="317.50" y2="576.20" stroke="#8e9cc6" stroke-width="1.6" stroke-linecap="butt"/>
<line x1="320.40" y1="579.10" x2="320.40" y2="584.70" stroke="#8e9cc6" stroke-width="1.2" stroke-linecap="butt"/>
<line x1="318.10" y1="581.90" x2="322.70" y2="581.90" stroke="#8e9cc6" stroke-width="1.6" stroke-linecap="butt"/>
<line x1="331.90" y1="590.70" x2="331.90" y2="596.30" stroke="#8e9cc6" stroke-width="1.2" stroke-linecap="butt"/>
<line x1="329.60" y1="593.50" x2="334.20" y2="593.50" stroke="#8e9cc6" stroke-width="1.6" stroke-linecap="butt"/>
<line x1="334.80" y1="597.60" x2="334.80" y2="603.20" stroke="#8e9cc6" stroke-width="1.2" stroke-linecap="butt"/>
<line x1="332.50" y1="600.40" x2="337.10" y2="600.40" stroke="#8e9cc6" stroke-width="1.6" stroke-linecap="butt"/>
<line x1="337.70" y1="601.60" x2="337.70" y2="607.20" stroke="#8e9cc6" stroke-width="1.2" stroke-linecap="butt"/>
<line x1="335.40" y1="604.40" x2="340.00" y2="604.40" stroke="#8e9cc6" stroke-width="1.6" stroke-linecap="butt"/>
<line x1="341.20" y1="608.00" x2="341.20" y2="613.60" stroke="#8e9cc6" stroke-width="1.2" stroke-linecap="butt"/>
<line x1="338.90" y1="610.80" x2="343.50" y2="610.80" stroke="#8e9cc6" stroke-width="1.6" stroke-linecap="butt"/>
<line x1="344.00" y1="609.20" x2="344.00" y2="614.80" stroke="#8e9cc6" stroke-width="1.2" stroke-linecap="butt"/>
<line x1="341.70" y1="612.00" x2="346.30" y2="612.00" stroke="#8e9cc6" stroke-width="1.6" stroke-linecap="butt"/>
<line x1="356.20" y1="616.00" x2="356.20" y2="621.60" stroke="#8e9cc6" stroke-width="1.2" stroke-linecap="butt"/>
<line x1="353.90" y1="618.80" x2="358.50" y2="618.80" stroke="#8e9cc6" stroke-width="1.6" stroke-linecap="butt"/>
<line x1="358.50" y1="616.00" x2="358.50" y2="621.60" stroke="#8e9cc6" stroke-width="1.2" stroke-linecap="butt"/>
<line x1="356.20" y1="618.80" x2="360.80" y2="618.80" stroke="#8e9cc6" stroke-width="1.6" stroke-linecap="butt"/>
<line x1="360.80" y1="616.00" x2="360.80" y2="621.60" stroke="#8e9cc6" stroke-width="1.2" stroke-linecap="butt"/>
<line x1="358.50" y1="618.80" x2="363.10" y2="618.80" stroke="#8e9cc6" stroke-width="1.6" stroke-linecap="butt"/>
<line x1="365.60" y1="625.20" x2="365.60" y2="630.80" stroke="#8e9cc6" stroke-width="1.2" stroke-linecap="butt"/>
<line x1="363.30" y1="628.00" x2="367.90" y2="628.00" stroke="#8e9cc6" stroke-width="1.6" stroke-linecap="butt"/>
<line x1="386.00" y1="636.60" x2="386.00" y2="642.20" stroke="#8e9cc6" stroke-width="1.2" stroke-linecap="butt"/>
<line x1="383.70" y1="639.40" x2="388.30" y2="639.40" stroke="#8e9cc6" stroke-width="1.6" stroke-linecap="butt"/>
<line x1="388.00" y1="636.60" x2="388.00" y2="642.20" stroke="#8e9cc6" stroke-width="1.2" stroke-linecap="butt"/>
<line x1="385.70" y1="639.40" x2="390.30" y2="639.40" stroke="#8e9cc6" stroke-width="1.6" stroke-linecap="butt"/>
<line x1="395.00" y1="636.60" x2="395.00" y2="642.20" stroke="#8e9cc6" stroke-width="1.2" stroke-linecap="butt"/>
<line x1="392.70" y1="639.40" x2="397.30" y2="639.40" stroke="#8e9cc6" stroke-width="1.6" stroke-linecap="butt"/>
<line x1="409.20" y1="639.60" x2="409.20" y2="645.20" stroke="#8e9cc6" stroke-width="1.2" stroke-linecap="butt"/>
<line x1="406.90" y1="642.40" x2="411.50" y2="642.40" stroke="#8e9cc6" stroke-width="1.6" stroke-linecap="butt"/>
<line x1="412.70" y1="639.60" x2="412.70" y2="645.20" stroke="#8e9cc6" stroke-width="1.2" stroke-linecap="butt"/>
<line x1="410.40" y1="642.40" x2="415.00" y2="642.40" stroke="#8e9cc6" stroke-width="1.6" stroke-linecap="butt"/>
<line x1="415.00" y1="639.60" x2="415.00" y2="645.20" stroke="#8e9cc6" stroke-width="1.2" stroke-linecap="butt"/>
<line x1="412.70" y1="642.40" x2="417.30" y2="642.40" stroke="#8e9cc6" stroke-width="1.6" stroke-linecap="butt"/>
<line x1="426.50" y1="648.40" x2="426.50" y2="654.00" stroke="#8e9cc6" stroke-width="1.2" stroke-linecap="butt"/>
<line x1="424.20" y1="651.20" x2="428.80" y2="651.20" stroke="#8e9cc6" stroke-width="1.6" stroke-linecap="butt"/>
<line x1="431.80" y1="648.40" x2="431.80" y2="654.00" stroke="#8e9cc6" stroke-width="1.2" stroke-linecap="butt"/>
<line x1="429.50" y1="651.20" x2="434.10" y2="651.20" stroke="#8e9cc6" stroke-width="1.6" stroke-linecap="butt"/>
<line x1="445.70" y1="648.40" x2="445.70" y2="654.00" stroke="#8e9cc6" stroke-width="1.2" stroke-linecap="butt"/>
<line x1="443.40" y1="651.20" x2="448.00" y2="651.20" stroke="#8e9cc6" stroke-width="1.6" stroke-linecap="butt"/>
<line x1="456.50" y1="648.40" x2="456.50" y2="654.00" stroke="#8e9cc6" stroke-width="1.2" stroke-linecap="butt"/>
<line x1="454.20" y1="651.20" x2="458.80" y2="651.20" stroke="#8e9cc6" stroke-width="1.6" stroke-linecap="butt"/>
<line x1="492.30" y1="648.40" x2="492.30" y2="654.00" stroke="#8e9cc6" stroke-width="1.2" stroke-linecap="butt"/>
<line x1="490.00" y1="651.20" x2="494.60" y2="651.20" stroke="#8e9cc6" stroke-width="1.6" stroke-linecap="butt"/>
<rect x="0.5" y="0.5" width="519" height="725" fill="none" stroke="#262626" stroke-width="1.2"/>
</svg></body></html>
